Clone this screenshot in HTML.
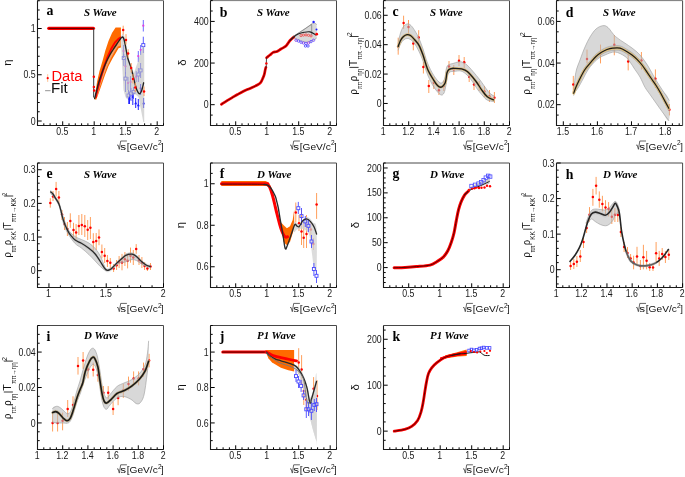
<!DOCTYPE html>
<html><head><meta charset="utf-8"><style>
html,body{margin:0;padding:0;background:#fff;}
svg{display:block;will-change:transform;}
.tl{font-family:"Liberation Sans",sans-serif;font-size:10.0px;fill:#1a1a1a;}
.xt{font-family:"Liberation Sans",sans-serif;font-size:9.6px;fill:#111;}
.yt{font-family:"Liberation Sans",sans-serif;font-size:10.5px;fill:#111;}
.pl{font-family:"Liberation Serif",serif;font-weight:bold;font-size:13.8px;fill:#000;}
.wv{font-family:"Liberation Serif",serif;font-weight:bold;font-style:italic;font-size:10.9px;fill:#000;}
</style></head><body>
<svg width="685" height="477" viewBox="0 0 685 477">
<rect width="685" height="477" fill="#fff"/>
<path d="M94.60,99.30 L95.60,92.00 L97.00,82.00 L99.50,71.00 L102.50,61.00 L105.20,51.00 L108.50,41.00 L112.00,33.00 L115.60,27.60 L120.90,27.60 L120.90,47.50 L118.50,48.20 L116.40,52.00 L112.50,58.50 L108.50,66.00 L105.00,75.00 L101.20,86.00 L98.40,94.00 L96.20,99.80Z" fill="#ff6a00" fill-opacity="1" stroke="none"/>
<path d="M96.00,97.00 L98.50,88.00 L101.50,78.00 L105.50,66.00 L110.50,55.00 L115.00,47.00 L118.50,42.00 L120.90,39.00 L120.90,45.50 L118.00,46.50 L115.00,51.00 L111.00,58.00 L106.50,68.00 L102.50,79.00 L99.50,88.00 L97.20,97.00Z" fill="#f4a36a" fill-opacity="1" stroke="none"/>
<path d="M95.20,97.50 L96.60,89.00 L99.00,79.00 L102.50,68.00 L106.50,57.00 L110.50,48.00 L114.50,41.50 L118.00,38.00 L120.90,36.30 L120.90,38.80 L118.30,40.30 L115.20,43.80 L111.50,50.50 L107.80,59.00 L104.20,70.00 L101.00,80.50 L98.40,90.00 L96.60,98.00Z" fill="#ff0000" fill-opacity="1" stroke="none"/>
<path d="M48.7,28.35 H93.5" stroke="#ff0000" stroke-width="3.1" stroke-linecap="round"/>
<path d="M48.5,28.35 H94" stroke="#2a0000" stroke-width="0.85"/>
<path d="M143.30,20.00 V31.50" stroke="#5a5aff" stroke-width="0.9"/>
<circle cx="143.30" cy="25.70" r="1.1" fill="#e040e0"/>
<path d="M143.30,36.70 V43.60" stroke="#4a4aff" stroke-width="0.9"/>
<path d="M143.30,46.60 V53.00" stroke="#4a4aff" stroke-width="0.9"/>
<rect x="141.80" y="43.60" width="3.0" height="3.0" fill="none" stroke="#4a4aff" stroke-width="0.9"/>
<path d="M140.70,45.00 V55.00" stroke="#5a5aff" stroke-width="0.9"/>
<circle cx="140.70" cy="49.80" r="1.1" fill="#e040e0"/>
<path d="M138.30,51.00 V62.00" stroke="#5a5aff" stroke-width="0.9"/>
<circle cx="138.30" cy="56.10" r="1.1" fill="#e040e0"/>
<path d="M125.50,58.00 V74.00" stroke="#5a5aff" stroke-width="0.9"/>
<circle cx="125.50" cy="66.30" r="1.1" fill="#e040e0"/>
<path d="M125.50,72.00 V77.10" stroke="#4a4aff" stroke-width="0.9"/>
<path d="M125.50,80.10 V92.00" stroke="#4a4aff" stroke-width="0.9"/>
<rect x="124.00" y="77.10" width="3.0" height="3.0" fill="none" stroke="#4a4aff" stroke-width="0.9"/>
<path d="M128.00,77.00 V90.00" stroke="#5a5aff" stroke-width="0.9"/>
<circle cx="128.00" cy="83.00" r="1.1" fill="#e040e0"/>
<path d="M130.60,76.00 V92.00" stroke="#5a5aff" stroke-width="0.9"/>
<circle cx="130.60" cy="82.00" r="1.1" fill="#e040e0"/>
<path d="M136.20,71.00 V82.00" stroke="#5a5aff" stroke-width="0.9"/>
<circle cx="136.20" cy="76.70" r="1.1" fill="#e040e0"/>
<path d="M138.40,68.00 V73.00" stroke="#4a4aff" stroke-width="0.9"/>
<path d="M138.40,76.00 V82.00" stroke="#4a4aff" stroke-width="0.9"/>
<rect x="136.90" y="73.00" width="3.0" height="3.0" fill="none" stroke="#4a4aff" stroke-width="0.9"/>
<path d="M140.60,63.00 V68.90" stroke="#4a4aff" stroke-width="0.9"/>
<path d="M140.60,71.90 V78.00" stroke="#4a4aff" stroke-width="0.9"/>
<rect x="139.10" y="68.90" width="3.0" height="3.0" fill="none" stroke="#4a4aff" stroke-width="0.9"/>
<path d="M140.60,84.00 V95.00" stroke="#2020ff" stroke-width="1.0"/>
<circle cx="140.60" cy="88.30" r="1.1" fill="#2020ff"/>
<path d="M128.50,90.00 V94.00" stroke="#4a4aff" stroke-width="0.9"/>
<path d="M128.50,97.00 V104.00" stroke="#4a4aff" stroke-width="0.9"/>
<rect x="127.00" y="94.00" width="3.0" height="3.0" fill="none" stroke="#4a4aff" stroke-width="0.9"/>
<path d="M131.00,88.00 V92.00" stroke="#4a4aff" stroke-width="0.9"/>
<path d="M131.00,95.00 V101.00" stroke="#4a4aff" stroke-width="0.9"/>
<rect x="129.50" y="92.00" width="3.0" height="3.0" fill="none" stroke="#4a4aff" stroke-width="0.9"/>
<path d="M132.80,92.00 V105.00" stroke="#2020ff" stroke-width="1.0"/>
<circle cx="132.80" cy="97.00" r="1.1" fill="#2020ff"/>
<path d="M133.50,87.00 V90.50" stroke="#4a4aff" stroke-width="0.9"/>
<path d="M133.50,93.50 V99.00" stroke="#4a4aff" stroke-width="0.9"/>
<rect x="132.00" y="90.50" width="3.0" height="3.0" fill="none" stroke="#4a4aff" stroke-width="0.9"/>
<path d="M135.70,98.00 V108.00" stroke="#2020ff" stroke-width="1.0"/>
<path d="M134.20,104.30 L137.20,104.30 L135.70,101.60Z" fill="#2020ff"/>
<path d="M138.30,99.00 V110.00" stroke="#2020ff" stroke-width="1.0"/>
<path d="M136.80,106.20 L139.80,106.20 L138.30,103.50Z" fill="#2020ff"/>
<path d="M143.60,98.00 V108.00" stroke="#2020ff" stroke-width="1.0"/>
<path d="M142.10,104.30 L145.10,104.30 L143.60,101.60Z" fill="#2020ff"/>
<path d="M129.50,94.00 V104.00" stroke="#2020ff" stroke-width="1.0"/>
<circle cx="129.50" cy="99.00" r="1.1" fill="#2020ff"/>
<path d="M123.50,45.00 V58.00" stroke="#5a5aff" stroke-width="0.9"/>
<circle cx="123.50" cy="51.00" r="1.1" fill="#e040e0"/>
<path d="M123.80,54.00 V56.50" stroke="#4a4aff" stroke-width="0.9"/>
<path d="M123.80,59.50 V66.00" stroke="#4a4aff" stroke-width="0.9"/>
<rect x="122.30" y="56.50" width="3.0" height="3.0" fill="none" stroke="#4a4aff" stroke-width="0.9"/>
<path d="M121.20,36.50 L122.40,33.80 L123.80,34.50 L125.00,38.00 L126.50,48.00 L128.00,58.00 L131.00,66.00 L134.00,73.00 L136.00,67.00 L138.50,60.00 L141.50,50.00 L143.30,45.50 L144.20,47.00 L144.20,122.00 L143.30,122.00 L141.00,110.00 L138.50,97.00 L135.50,94.50 L131.00,95.00 L127.30,99.50 L125.50,97.00 L123.50,90.00 L122.00,62.00 L121.20,45.00Z" fill="#bdbdbd" fill-opacity="0.6" stroke="none"/>
<path d="M93.7,28.6 V97.5" stroke="#333" stroke-width="1.0"/>
<path d="M94.60,98.50 C94.75,97.92 95.13,96.42 95.50,95.00 C95.87,93.58 96.33,91.83 96.80,90.00 C97.27,88.17 97.73,86.00 98.30,84.00 C98.87,82.00 99.42,80.33 100.20,78.00 C100.98,75.67 102.03,72.58 103.00,70.00 C103.97,67.42 104.92,64.92 106.00,62.50 C107.08,60.08 108.30,57.67 109.50,55.50 C110.70,53.33 112.03,51.33 113.20,49.50 C114.37,47.67 115.45,46.05 116.50,44.50 C117.55,42.95 118.67,41.35 119.50,40.20 C120.33,39.05 120.98,38.13 121.50,37.60 C122.02,37.07 122.25,36.88 122.60,37.00 C122.95,37.12 123.23,37.38 123.60,38.30 C123.97,39.22 124.40,40.72 124.80,42.50 C125.20,44.28 125.55,46.58 126.00,49.00 C126.45,51.42 126.97,54.75 127.50,57.00 C128.03,59.25 128.67,60.92 129.20,62.50 C129.73,64.08 130.10,64.50 130.70,66.50 C131.30,68.50 132.10,71.70 132.80,74.50 C133.50,77.30 134.20,80.67 134.90,83.30 C135.60,85.93 136.30,88.58 137.00,90.30 C137.70,92.02 138.47,93.23 139.10,93.60 C139.73,93.97 140.27,93.35 140.80,92.50 C141.33,91.65 141.83,90.12 142.30,88.50 C142.77,86.88 143.38,83.75 143.60,82.80" fill="none" stroke="#222" stroke-width="1.35" stroke-opacity="1" stroke-linejoin="round" stroke-linecap="round" />
<circle cx="93.80" cy="76.80" r="1.25" fill="#ff0000"/>
<circle cx="93.90" cy="86.90" r="1.25" fill="#ff0000"/>
<circle cx="94.20" cy="90.50" r="1.25" fill="#ff0000"/>
<path d="M123.20,25.70 V34.60" stroke="#ff9f5c" stroke-width="1.0"/>
<circle cx="123.20" cy="30.10" r="1.25" fill="#ff0000"/>
<path d="M126.00,34.10 V44.60" stroke="#ff9f5c" stroke-width="1.0"/>
<circle cx="126.00" cy="39.90" r="1.25" fill="#ff0000"/>
<path d="M128.10,49.30 V57.70" stroke="#ff9f5c" stroke-width="1.0"/>
<circle cx="128.10" cy="53.50" r="1.25" fill="#ff0000"/>
<path d="M131.20,63.00 V72.50" stroke="#ff9f5c" stroke-width="1.0"/>
<circle cx="131.20" cy="67.90" r="1.25" fill="#ff0000"/>
<path d="M133.00,74.00 V83.50" stroke="#ff9f5c" stroke-width="1.0"/>
<circle cx="133.00" cy="78.90" r="1.25" fill="#ff0000"/>
<path d="M135.30,83.00 V92.00" stroke="#ff9f5c" stroke-width="1.0"/>
<circle cx="135.30" cy="87.40" r="1.25" fill="#ff0000"/>
<path d="M144.00,86.50 V96.00" stroke="#ff9f5c" stroke-width="1.0"/>
<circle cx="144.00" cy="91.40" r="1.25" fill="#ff0000"/>
<path d="M294.00,36.00 C294.67,35.25 296.17,34.67 298.00,33.50 C299.83,32.33 303.08,30.33 305.00,29.00 C306.92,27.67 308.25,26.45 309.50,25.50 C310.75,24.55 311.67,23.72 312.50,23.30 C313.33,22.88 313.83,22.80 314.50,23.00 C315.17,23.20 316.17,22.00 316.50,24.50 C316.83,27.00 317.08,35.33 316.50,38.00 C315.92,40.67 314.42,39.83 313.00,40.50 C311.58,41.17 309.67,41.83 308.00,42.00 C306.33,42.17 304.67,41.92 303.00,41.50 C301.33,41.08 299.50,40.08 298.00,39.50 C296.50,38.92 294.67,38.58 294.00,38.00 C293.33,37.42 293.33,36.75 294.00,36.00Z" fill="#d8d8d8" fill-opacity="1" stroke="none"/>
<path d="M294.00,36.00 C294.67,35.58 296.17,34.67 298.00,33.50 C299.83,32.33 303.08,30.33 305.00,29.00 C306.92,27.67 308.25,26.45 309.50,25.50 C310.75,24.55 311.67,23.72 312.50,23.30 C313.33,22.88 313.83,22.80 314.50,23.00 C315.17,23.20 316.17,24.25 316.50,24.50" fill="none" stroke="#9a9a9a" stroke-width="0.6" stroke-opacity="1" stroke-linejoin="round" stroke-linecap="round" />
<path d="M294.00,38.00 C294.67,38.25 296.50,38.92 298.00,39.50 C299.50,40.08 301.33,41.08 303.00,41.50 C304.67,41.92 306.33,42.17 308.00,42.00 C309.67,41.83 311.58,41.17 313.00,40.50 C314.42,39.83 315.92,38.42 316.50,38.00" fill="none" stroke="#9a9a9a" stroke-width="0.6" stroke-opacity="1" stroke-linejoin="round" stroke-linecap="round" />
<path d="M221.40,104.30 C222.17,103.80 224.27,102.37 226.00,101.30 C227.73,100.23 229.88,99.03 231.80,97.90 C233.72,96.77 235.55,95.62 237.50,94.50 C239.45,93.38 241.42,92.22 243.50,91.20 C245.58,90.18 247.70,89.43 250.00,88.40 C252.30,87.37 255.50,86.02 257.30,85.00 C259.10,83.98 259.85,83.48 260.80,82.30 C261.75,81.12 262.42,79.22 263.00,77.90 C263.58,76.58 263.93,75.72 264.30,74.40 C264.67,73.08 264.93,71.17 265.20,70.00 C265.47,68.83 265.78,67.83 265.90,67.40" fill="none" stroke="#ff0000" stroke-width="2.7" stroke-opacity="1" stroke-linejoin="round" stroke-linecap="round" />
<path d="M266.50,57.70 C267.08,57.25 268.90,55.88 270.00,55.00 C271.10,54.12 271.93,52.98 273.10,52.40 C274.27,51.82 275.70,52.07 277.00,51.50 C278.30,50.93 279.40,49.92 280.90,49.00 C282.40,48.08 284.48,47.42 286.00,46.00 C287.52,44.58 288.70,42.00 290.00,40.50 C291.30,39.00 293.17,37.58 293.80,37.00" fill="none" stroke="#ff0000" stroke-width="2.7" stroke-opacity="1" stroke-linejoin="round" stroke-linecap="round" />
<path d="M221.40,104.30 C222.17,103.80 224.27,102.37 226.00,101.30 C227.73,100.23 229.88,99.03 231.80,97.90 C233.72,96.77 235.55,95.62 237.50,94.50 C239.45,93.38 241.42,92.22 243.50,91.20 C245.58,90.18 247.70,89.43 250.00,88.40 C252.30,87.37 255.50,86.02 257.30,85.00 C259.10,83.98 259.85,83.48 260.80,82.30 C261.75,81.12 262.42,79.22 263.00,77.90 C263.58,76.58 263.93,75.72 264.30,74.40 C264.67,73.08 264.93,71.17 265.20,70.00 C265.47,68.83 265.78,67.83 265.90,67.40" fill="none" stroke="#3a0000" stroke-width="0.75" stroke-opacity="1" stroke-linejoin="round" stroke-linecap="round" />
<path d="M266.2,67.6 L266.5,57.7" stroke="#333" stroke-width="0.9"/>
<circle cx="266.40" cy="63.40" r="1.2" fill="#ff0000"/>
<path d="M266.50,57.70 C267.08,57.25 268.90,55.88 270.00,55.00 C271.10,54.12 271.93,52.98 273.10,52.40 C274.27,51.82 275.70,52.07 277.00,51.50 C278.30,50.93 279.40,49.92 280.90,49.00 C282.40,48.08 284.48,47.42 286.00,46.00 C287.52,44.58 288.70,42.00 290.00,40.50 C291.30,39.00 293.17,37.58 293.80,37.00" fill="none" stroke="#3a0000" stroke-width="0.75" stroke-opacity="1" stroke-linejoin="round" stroke-linecap="round" />
<path d="M293,36.6 L311.7,24.3 V35" fill="none" stroke="#777" stroke-width="0.7"/>
<circle cx="301" cy="35.6" r="1.1" fill="none" stroke="#f05050" stroke-width="0.9"/>
<circle cx="303.5" cy="35.1" r="1.1" fill="none" stroke="#f05050" stroke-width="0.9"/>
<circle cx="306" cy="34.9" r="1.1" fill="none" stroke="#f05050" stroke-width="0.9"/>
<circle cx="308.5" cy="35.3" r="1.1" fill="none" stroke="#f05050" stroke-width="0.9"/>
<circle cx="311" cy="35.9" r="1.1" fill="none" stroke="#f05050" stroke-width="0.9"/>
<circle cx="296" cy="40.2" r="1.2" fill="none" stroke="#8040e0" stroke-width="0.85"/>
<circle cx="298.5" cy="41" r="1.2" fill="none" stroke="#5a4aff" stroke-width="0.85"/>
<circle cx="301" cy="42.2" r="1.2" fill="none" stroke="#5a4aff" stroke-width="0.85"/>
<circle cx="303.5" cy="43" r="1.2" fill="none" stroke="#7a40f0" stroke-width="0.85"/>
<circle cx="306" cy="43.6" r="1.2" fill="none" stroke="#5a4aff" stroke-width="0.85"/>
<circle cx="308.5" cy="43" r="1.2" fill="none" stroke="#a040e0" stroke-width="0.85"/>
<circle cx="311" cy="41.6" r="1.2" fill="none" stroke="#5a4aff" stroke-width="0.85"/>
<circle cx="313.5" cy="40.3" r="1.2" fill="none" stroke="#7a50ff" stroke-width="0.85"/>
<circle cx="305.5" cy="46" r="1.2" fill="none" stroke="#4a4aff" stroke-width="0.85"/>
<circle cx="308" cy="46" r="1.2" fill="none" stroke="#4a4aff" stroke-width="0.85"/>
<path d="M290.00,40.50 C290.63,39.92 292.43,38.07 293.80,37.00 C295.17,35.93 296.48,34.88 298.20,34.10 C299.92,33.32 302.13,32.67 304.10,32.30 C306.07,31.93 308.03,31.47 310.00,31.90 C311.97,32.33 314.92,34.40 315.90,34.90" fill="none" stroke="#222" stroke-width="1.1" stroke-opacity="1" stroke-linejoin="round" stroke-linecap="round" />
<circle cx="316.70" cy="34.20" r="1.4" fill="#ff0000"/>
<circle cx="313.60" cy="22.00" r="1.2" fill="#2020ff"/>
<circle cx="316.50" cy="29.50" r="1.0" fill="#2020ff"/>
<path d="M398.20,37.70 V54.70" stroke="#ff9f5c" stroke-width="1.0"/>
<circle cx="398.20" cy="46.50" r="1.25" fill="#ff0000"/>
<path d="M403.60,15.70 V28.90" stroke="#ff9f5c" stroke-width="1.0"/>
<circle cx="403.60" cy="22.90" r="1.25" fill="#ff0000"/>
<path d="M408.50,20.00 V34.00" stroke="#ff9f5c" stroke-width="1.0"/>
<circle cx="408.50" cy="27.00" r="1.25" fill="#ff0000"/>
<path d="M413.30,36.40 V50.30" stroke="#ff9f5c" stroke-width="1.0"/>
<circle cx="413.30" cy="43.40" r="1.25" fill="#ff0000"/>
<path d="M418.70,30.20 V44.60" stroke="#ff9f5c" stroke-width="1.0"/>
<circle cx="418.70" cy="37.50" r="1.25" fill="#ff0000"/>
<path d="M423.40,62.00 V73.50" stroke="#ff9f5c" stroke-width="1.0"/>
<circle cx="423.40" cy="67.00" r="1.25" fill="#ff0000"/>
<path d="M428.80,80.00 V93.00" stroke="#ff9f5c" stroke-width="1.0"/>
<circle cx="428.80" cy="85.90" r="1.25" fill="#ff0000"/>
<path d="M433.80,77.00 V89.00" stroke="#ff9f5c" stroke-width="1.0"/>
<circle cx="433.80" cy="82.80" r="1.25" fill="#ff0000"/>
<path d="M438.90,85.00 V95.00" stroke="#ff9f5c" stroke-width="1.0"/>
<circle cx="438.90" cy="90.30" r="1.25" fill="#ff0000"/>
<path d="M443.80,80.50 V91.00" stroke="#ff9f5c" stroke-width="1.0"/>
<circle cx="443.80" cy="85.90" r="1.25" fill="#ff0000"/>
<path d="M449.00,61.00 V72.00" stroke="#ff9f5c" stroke-width="1.0"/>
<circle cx="449.00" cy="66.40" r="1.25" fill="#ff0000"/>
<path d="M453.80,65.00 V75.00" stroke="#ff9f5c" stroke-width="1.0"/>
<circle cx="453.80" cy="69.60" r="1.25" fill="#ff0000"/>
<path d="M459.00,55.00 V66.00" stroke="#ff9f5c" stroke-width="1.0"/>
<circle cx="459.00" cy="60.80" r="1.25" fill="#ff0000"/>
<path d="M464.20,57.00 V68.00" stroke="#ff9f5c" stroke-width="1.0"/>
<circle cx="464.20" cy="62.30" r="1.25" fill="#ff0000"/>
<path d="M469.20,72.00 V82.00" stroke="#ff9f5c" stroke-width="1.0"/>
<circle cx="469.20" cy="76.80" r="1.25" fill="#ff0000"/>
<path d="M474.00,80.00 V90.00" stroke="#ff9f5c" stroke-width="1.0"/>
<circle cx="474.00" cy="84.60" r="1.25" fill="#ff0000"/>
<path d="M479.20,81.00 V91.00" stroke="#ff9f5c" stroke-width="1.0"/>
<circle cx="479.20" cy="85.70" r="1.25" fill="#ff0000"/>
<path d="M484.40,86.00 V97.00" stroke="#ff9f5c" stroke-width="1.0"/>
<circle cx="484.40" cy="91.40" r="1.25" fill="#ff0000"/>
<path d="M489.40,90.00 V102.00" stroke="#ff9f5c" stroke-width="1.0"/>
<circle cx="489.40" cy="96.20" r="1.25" fill="#ff0000"/>
<path d="M494.40,92.00 V103.00" stroke="#ff9f5c" stroke-width="1.0"/>
<circle cx="494.40" cy="97.70" r="1.25" fill="#ff0000"/>
<path d="M398.20,43.00 C398.58,40.17 399.62,35.75 400.50,33.00 C401.38,30.25 402.33,28.02 403.50,26.50 C404.67,24.98 406.25,24.07 407.50,23.90 C408.75,23.73 409.75,24.32 411.00,25.50 C412.25,26.68 413.67,28.83 415.00,31.00 C416.33,33.17 417.67,35.50 419.00,38.50 C420.33,41.50 421.58,44.92 423.00,49.00 C424.42,53.08 425.70,58.58 427.50,63.00 C429.30,67.42 431.63,72.17 433.80,75.50 C435.97,78.83 438.72,82.42 440.50,83.00 C442.28,83.58 443.50,81.50 444.50,79.00 C445.50,76.50 445.83,70.37 446.50,68.00 C447.17,65.63 447.42,65.55 448.50,64.80 C449.58,64.05 451.42,63.97 453.00,63.50 C454.58,63.03 456.50,62.25 458.00,62.00 C459.50,61.75 460.50,61.50 462.00,62.00 C463.50,62.50 465.17,63.42 467.00,65.00 C468.83,66.58 470.83,69.00 473.00,71.50 C475.17,74.00 477.83,77.17 480.00,80.00 C482.17,82.83 484.33,86.25 486.00,88.50 C487.67,90.75 488.67,92.25 490.00,93.50 C491.33,94.75 493.33,94.67 494.00,96.00 C494.67,97.33 495.17,100.83 494.00,101.50 C492.83,102.17 488.83,100.92 487.00,100.00 C485.17,99.08 484.50,97.67 483.00,96.00 C481.50,94.33 479.83,92.50 478.00,90.00 C476.17,87.50 473.83,83.50 472.00,81.00 C470.17,78.50 468.83,76.67 467.00,75.00 C465.17,73.33 463.17,71.58 461.00,71.00 C458.83,70.42 455.83,71.33 454.00,71.50 C452.17,71.67 451.08,71.25 450.00,72.00 C448.92,72.75 448.17,73.83 447.50,76.00 C446.83,78.17 446.58,82.17 446.00,85.00 C445.42,87.83 444.92,91.38 444.00,93.00 C443.08,94.62 442.20,95.70 440.50,94.70 C438.80,93.70 435.97,90.37 433.80,87.00 C431.63,83.63 429.30,78.83 427.50,74.50 C425.70,70.17 424.42,64.83 423.00,61.00 C421.58,57.17 420.42,54.42 419.00,51.50 C417.58,48.58 415.92,45.50 414.50,43.50 C413.08,41.50 411.75,40.33 410.50,39.50 C409.25,38.67 408.17,38.42 407.00,38.50 C405.83,38.58 404.58,39.08 403.50,40.00 C402.42,40.92 401.38,42.33 400.50,44.00 C399.62,45.67 398.58,50.17 398.20,50.00 C397.82,49.83 397.82,45.83 398.20,43.00Z" fill="#b8b8b8" fill-opacity="0.55" stroke="none"/>
<path d="M398.20,43.00 C398.58,41.33 399.62,35.75 400.50,33.00 C401.38,30.25 402.33,28.02 403.50,26.50 C404.67,24.98 406.25,24.07 407.50,23.90 C408.75,23.73 409.75,24.32 411.00,25.50 C412.25,26.68 413.67,28.83 415.00,31.00 C416.33,33.17 417.67,35.50 419.00,38.50 C420.33,41.50 421.58,44.92 423.00,49.00 C424.42,53.08 425.70,58.58 427.50,63.00 C429.30,67.42 431.63,72.17 433.80,75.50 C435.97,78.83 438.72,82.42 440.50,83.00 C442.28,83.58 443.50,81.50 444.50,79.00 C445.50,76.50 445.83,70.37 446.50,68.00 C447.17,65.63 447.42,65.55 448.50,64.80 C449.58,64.05 451.42,63.97 453.00,63.50 C454.58,63.03 456.50,62.25 458.00,62.00 C459.50,61.75 460.50,61.50 462.00,62.00 C463.50,62.50 465.17,63.42 467.00,65.00 C468.83,66.58 470.83,69.00 473.00,71.50 C475.17,74.00 477.83,77.17 480.00,80.00 C482.17,82.83 484.33,86.25 486.00,88.50 C487.67,90.75 488.67,92.25 490.00,93.50 C491.33,94.75 493.33,95.58 494.00,96.00" fill="none" stroke="#9a9a9a" stroke-width="0.6" stroke-opacity="1" stroke-linejoin="round" stroke-linecap="round" />
<path d="M398.20,50.00 C398.58,49.00 399.62,45.67 400.50,44.00 C401.38,42.33 402.42,40.92 403.50,40.00 C404.58,39.08 405.83,38.58 407.00,38.50 C408.17,38.42 409.25,38.67 410.50,39.50 C411.75,40.33 413.08,41.50 414.50,43.50 C415.92,45.50 417.58,48.58 419.00,51.50 C420.42,54.42 421.58,57.17 423.00,61.00 C424.42,64.83 425.70,70.17 427.50,74.50 C429.30,78.83 431.63,83.63 433.80,87.00 C435.97,90.37 438.80,93.70 440.50,94.70 C442.20,95.70 443.08,94.62 444.00,93.00 C444.92,91.38 445.42,87.83 446.00,85.00 C446.58,82.17 446.83,78.17 447.50,76.00 C448.17,73.83 448.92,72.75 450.00,72.00 C451.08,71.25 452.17,71.67 454.00,71.50 C455.83,71.33 458.83,70.42 461.00,71.00 C463.17,71.58 465.17,73.33 467.00,75.00 C468.83,76.67 470.17,78.50 472.00,81.00 C473.83,83.50 476.17,87.50 478.00,90.00 C479.83,92.50 481.50,94.33 483.00,96.00 C484.50,97.67 485.17,99.08 487.00,100.00 C488.83,100.92 492.83,101.25 494.00,101.50" fill="none" stroke="#9a9a9a" stroke-width="0.6" stroke-opacity="1" stroke-linejoin="round" stroke-linecap="round" />
<path d="M398.20,46.50 C398.58,45.50 399.62,42.17 400.50,40.50 C401.38,38.83 402.42,37.48 403.50,36.50 C404.58,35.52 405.83,34.77 407.00,34.60 C408.17,34.43 409.25,34.68 410.50,35.50 C411.75,36.32 413.08,37.87 414.50,39.50 C415.92,41.13 417.58,42.72 419.00,45.30 C420.42,47.88 421.58,51.07 423.00,55.00 C424.42,58.93 425.70,64.68 427.50,68.90 C429.30,73.12 432.13,77.53 433.80,80.30 C435.47,83.07 436.33,84.35 437.50,85.50 C438.67,86.65 439.80,87.20 440.80,87.20 C441.80,87.20 442.77,86.23 443.50,85.50 C444.23,84.77 444.75,84.05 445.20,82.80 C445.65,81.55 445.90,79.68 446.20,78.00 C446.50,76.32 446.55,74.10 447.00,72.70 C447.45,71.30 448.15,70.28 448.90,69.60 C449.65,68.92 450.65,68.82 451.50,68.60 C452.35,68.38 452.33,68.25 454.00,68.30 C455.67,68.35 459.28,68.37 461.50,68.90 C463.72,69.43 464.93,69.48 467.30,71.50 C469.67,73.52 473.25,77.85 475.70,81.00 C478.15,84.15 480.07,87.78 482.00,90.40 C483.93,93.02 485.38,95.13 487.30,96.70 C489.22,98.27 492.47,99.28 493.50,99.80" fill="none" stroke="#d8bc80" stroke-width="2.8" stroke-opacity="1" stroke-linejoin="round" stroke-linecap="round" />
<path d="M398.20,46.50 C398.58,45.50 399.62,42.17 400.50,40.50 C401.38,38.83 402.42,37.48 403.50,36.50 C404.58,35.52 405.83,34.77 407.00,34.60 C408.17,34.43 409.25,34.68 410.50,35.50 C411.75,36.32 413.08,37.87 414.50,39.50 C415.92,41.13 417.58,42.72 419.00,45.30 C420.42,47.88 421.58,51.07 423.00,55.00 C424.42,58.93 425.70,64.68 427.50,68.90 C429.30,73.12 432.13,77.53 433.80,80.30 C435.47,83.07 436.33,84.35 437.50,85.50 C438.67,86.65 439.80,87.20 440.80,87.20 C441.80,87.20 442.77,86.23 443.50,85.50 C444.23,84.77 444.75,84.05 445.20,82.80 C445.65,81.55 445.90,79.68 446.20,78.00 C446.50,76.32 446.55,74.10 447.00,72.70 C447.45,71.30 448.15,70.28 448.90,69.60 C449.65,68.92 450.65,68.82 451.50,68.60 C452.35,68.38 452.33,68.25 454.00,68.30 C455.67,68.35 459.28,68.37 461.50,68.90 C463.72,69.43 464.93,69.48 467.30,71.50 C469.67,73.52 473.25,77.85 475.70,81.00 C478.15,84.15 480.07,87.78 482.00,90.40 C483.93,93.02 485.38,95.13 487.30,96.70 C489.22,98.27 492.47,99.28 493.50,99.80" fill="none" stroke="#1a1a1a" stroke-width="1.35" stroke-opacity="1" stroke-linejoin="round" stroke-linecap="round" />
<path d="M573.30,75.90 V92.70" stroke="#ff9f5c" stroke-width="1.0"/>
<circle cx="573.30" cy="84.50" r="1.25" fill="#ff0000"/>
<path d="M587.00,49.60 V63.40" stroke="#ff9f5c" stroke-width="1.0"/>
<circle cx="587.00" cy="59.00" r="1.25" fill="#ff0000"/>
<path d="M600.50,44.60 V63.40" stroke="#ff9f5c" stroke-width="1.0"/>
<circle cx="600.50" cy="53.40" r="1.25" fill="#ff0000"/>
<path d="M614.30,35.10 V55.30" stroke="#ff9f5c" stroke-width="1.0"/>
<circle cx="614.30" cy="44.80" r="1.25" fill="#ff0000"/>
<path d="M628.20,53.50 V70.40" stroke="#ff9f5c" stroke-width="1.0"/>
<circle cx="628.20" cy="61.60" r="1.25" fill="#ff0000"/>
<path d="M641.40,52.00 V69.60" stroke="#ff9f5c" stroke-width="1.0"/>
<circle cx="641.40" cy="60.50" r="1.25" fill="#ff0000"/>
<path d="M655.40,69.40 V88.00" stroke="#ff9f5c" stroke-width="1.0"/>
<circle cx="655.40" cy="78.80" r="1.25" fill="#ff0000"/>
<path d="M669.40,104.00 V115.40" stroke="#ff9f5c" stroke-width="1.0"/>
<circle cx="669.40" cy="109.70" r="1.25" fill="#ff0000"/>
<path d="M573.70,92.50 C574.05,89.02 574.75,78.02 575.80,72.60 C576.85,67.18 578.47,64.27 580.00,60.00 C581.53,55.73 583.33,50.83 585.00,47.00 C586.67,43.17 588.17,40.00 590.00,37.00 C591.83,34.00 593.87,30.88 596.00,29.00 C598.13,27.12 600.80,25.95 602.80,25.70 C604.80,25.45 605.92,25.72 608.00,27.50 C610.08,29.28 612.47,33.78 615.30,36.40 C618.13,39.02 622.22,41.27 625.00,43.20 C627.78,45.13 629.50,46.03 632.00,48.00 C634.50,49.97 637.33,52.00 640.00,55.00 C642.67,58.00 645.50,62.08 648.00,66.00 C650.50,69.92 652.67,74.58 655.00,78.50 C657.33,82.42 659.63,85.87 662.00,89.50 C664.37,93.13 668.07,95.12 669.20,100.30 C670.33,105.48 670.00,118.73 668.80,120.60 C667.60,122.47 664.13,114.43 662.00,111.50 C659.87,108.57 658.00,105.83 656.00,103.00 C654.00,100.17 651.83,97.12 650.00,94.50 C648.17,91.88 646.67,90.22 645.00,87.30 C643.33,84.38 641.67,79.95 640.00,77.00 C638.33,74.05 636.67,72.10 635.00,69.60 C633.33,67.10 631.67,64.20 630.00,62.00 C628.33,59.80 627.50,58.07 625.00,56.40 C622.50,54.73 618.33,52.23 615.00,52.00 C611.67,51.77 608.00,53.75 605.00,55.00 C602.00,56.25 599.75,57.17 597.00,59.50 C594.25,61.83 590.83,65.75 588.50,69.00 C586.17,72.25 584.75,75.83 583.00,79.00 C581.25,82.17 579.55,85.58 578.00,88.00 C576.45,90.42 574.42,92.75 573.70,93.50 C572.98,94.25 573.35,95.98 573.70,92.50Z" fill="#b8b8b8" fill-opacity="0.55" stroke="none"/>
<path d="M573.70,92.50 C574.05,89.18 574.75,78.02 575.80,72.60 C576.85,67.18 578.47,64.27 580.00,60.00 C581.53,55.73 583.33,50.83 585.00,47.00 C586.67,43.17 588.17,40.00 590.00,37.00 C591.83,34.00 593.87,30.88 596.00,29.00 C598.13,27.12 600.80,25.95 602.80,25.70 C604.80,25.45 605.92,25.72 608.00,27.50 C610.08,29.28 612.47,33.78 615.30,36.40 C618.13,39.02 622.22,41.27 625.00,43.20 C627.78,45.13 629.50,46.03 632.00,48.00 C634.50,49.97 637.33,52.00 640.00,55.00 C642.67,58.00 645.50,62.08 648.00,66.00 C650.50,69.92 652.67,74.58 655.00,78.50 C657.33,82.42 659.63,85.87 662.00,89.50 C664.37,93.13 668.00,98.50 669.20,100.30" fill="none" stroke="#9a9a9a" stroke-width="0.6" stroke-opacity="1" stroke-linejoin="round" stroke-linecap="round" />
<path d="M573.70,93.50 C574.42,92.58 576.45,90.42 578.00,88.00 C579.55,85.58 581.25,82.17 583.00,79.00 C584.75,75.83 586.17,72.25 588.50,69.00 C590.83,65.75 594.25,61.83 597.00,59.50 C599.75,57.17 602.00,56.25 605.00,55.00 C608.00,53.75 611.67,51.77 615.00,52.00 C618.33,52.23 622.50,54.73 625.00,56.40 C627.50,58.07 628.33,59.80 630.00,62.00 C631.67,64.20 633.33,67.10 635.00,69.60 C636.67,72.10 638.33,74.05 640.00,77.00 C641.67,79.95 643.33,84.38 645.00,87.30 C646.67,90.22 648.17,91.88 650.00,94.50 C651.83,97.12 654.00,100.17 656.00,103.00 C658.00,105.83 659.87,108.57 662.00,111.50 C664.13,114.43 667.67,119.08 668.80,120.60" fill="none" stroke="#9a9a9a" stroke-width="0.6" stroke-opacity="1" stroke-linejoin="round" stroke-linecap="round" />
<path d="M573.70,90.80 C574.08,89.02 575.15,86.72 576.00,84.70 C576.85,82.68 577.37,81.53 578.80,78.70 C580.23,75.87 582.50,70.92 584.60,67.70 C586.70,64.48 589.50,61.65 591.40,59.40 C593.30,57.15 594.32,55.77 596.00,54.20 C597.68,52.63 599.67,51.17 601.50,50.00 C603.33,48.83 605.12,47.88 607.00,47.20 C608.88,46.52 610.63,46.12 612.80,45.90 C614.97,45.68 617.68,45.35 620.00,45.90 C622.32,46.45 624.70,48.07 626.70,49.20 C628.70,50.33 630.28,51.38 632.00,52.70 C633.72,54.02 635.33,55.43 637.00,57.10 C638.67,58.77 640.28,60.50 642.00,62.70 C643.72,64.90 645.63,67.88 647.30,70.30 C648.97,72.72 650.53,75.05 652.00,77.20 C653.47,79.35 654.77,81.12 656.10,83.20 C657.43,85.28 658.77,87.53 660.00,89.70 C661.23,91.87 662.03,93.48 663.50,96.20 C664.97,98.92 667.92,103.60 668.80,106.00 C669.68,108.40 669.68,111.47 668.80,110.60 C667.92,109.73 664.97,103.52 663.50,100.80 C662.03,98.08 661.23,96.47 660.00,94.30 C658.77,92.13 657.43,89.88 656.10,87.80 C654.77,85.72 653.47,83.95 652.00,81.80 C650.53,79.65 648.97,77.32 647.30,74.90 C645.63,72.48 643.72,69.50 642.00,67.30 C640.28,65.10 638.67,63.37 637.00,61.70 C635.33,60.03 633.72,58.62 632.00,57.30 C630.28,55.98 628.70,54.93 626.70,53.80 C624.70,52.67 622.32,51.05 620.00,50.50 C617.68,49.95 614.97,50.28 612.80,50.50 C610.63,50.72 608.88,51.12 607.00,51.80 C605.12,52.48 603.33,53.43 601.50,54.60 C599.67,55.77 597.68,57.23 596.00,58.80 C594.32,60.37 593.30,61.75 591.40,64.00 C589.50,66.25 586.70,69.08 584.60,72.30 C582.50,75.52 580.23,80.47 578.80,83.30 C577.37,86.13 576.85,87.28 576.00,89.30 C575.15,91.32 574.08,95.15 573.70,95.40 C573.32,95.65 573.32,92.58 573.70,90.80Z" fill="#a8a8a8" fill-opacity="0.3" stroke="none"/>
<path d="M573.70,90.80 C574.08,89.78 575.15,86.72 576.00,84.70 C576.85,82.68 577.37,81.53 578.80,78.70 C580.23,75.87 582.50,70.92 584.60,67.70 C586.70,64.48 589.50,61.65 591.40,59.40 C593.30,57.15 594.32,55.77 596.00,54.20 C597.68,52.63 599.67,51.17 601.50,50.00 C603.33,48.83 605.12,47.88 607.00,47.20 C608.88,46.52 610.63,46.12 612.80,45.90 C614.97,45.68 617.68,45.35 620.00,45.90 C622.32,46.45 624.70,48.07 626.70,49.20 C628.70,50.33 630.28,51.38 632.00,52.70 C633.72,54.02 635.33,55.43 637.00,57.10 C638.67,58.77 640.28,60.50 642.00,62.70 C643.72,64.90 645.63,67.88 647.30,70.30 C648.97,72.72 650.53,75.05 652.00,77.20 C653.47,79.35 654.77,81.12 656.10,83.20 C657.43,85.28 658.77,87.53 660.00,89.70 C661.23,91.87 662.03,93.48 663.50,96.20 C664.97,98.92 667.92,104.37 668.80,106.00" fill="none" stroke="#999" stroke-width="0.5" stroke-opacity="1" stroke-linejoin="round" stroke-linecap="round" />
<path d="M573.70,95.40 C574.08,94.38 575.15,91.32 576.00,89.30 C576.85,87.28 577.37,86.13 578.80,83.30 C580.23,80.47 582.50,75.52 584.60,72.30 C586.70,69.08 589.50,66.25 591.40,64.00 C593.30,61.75 594.32,60.37 596.00,58.80 C597.68,57.23 599.67,55.77 601.50,54.60 C603.33,53.43 605.12,52.48 607.00,51.80 C608.88,51.12 610.63,50.72 612.80,50.50 C614.97,50.28 617.68,49.95 620.00,50.50 C622.32,51.05 624.70,52.67 626.70,53.80 C628.70,54.93 630.28,55.98 632.00,57.30 C633.72,58.62 635.33,60.03 637.00,61.70 C638.67,63.37 640.28,65.10 642.00,67.30 C643.72,69.50 645.63,72.48 647.30,74.90 C648.97,77.32 650.53,79.65 652.00,81.80 C653.47,83.95 654.77,85.72 656.10,87.80 C657.43,89.88 658.77,92.13 660.00,94.30 C661.23,96.47 662.03,98.08 663.50,100.80 C664.97,103.52 667.92,108.97 668.80,110.60" fill="none" stroke="#999" stroke-width="0.5" stroke-opacity="1" stroke-linejoin="round" stroke-linecap="round" />
<path d="M573.70,93.10 C574.08,92.08 575.15,89.02 576.00,87.00 C576.85,84.98 577.37,83.83 578.80,81.00 C580.23,78.17 582.50,73.22 584.60,70.00 C586.70,66.78 589.50,63.95 591.40,61.70 C593.30,59.45 594.32,58.07 596.00,56.50 C597.68,54.93 599.67,53.47 601.50,52.30 C603.33,51.13 605.12,50.18 607.00,49.50 C608.88,48.82 610.63,48.42 612.80,48.20 C614.97,47.98 617.68,47.65 620.00,48.20 C622.32,48.75 624.70,50.37 626.70,51.50 C628.70,52.63 630.28,53.68 632.00,55.00 C633.72,56.32 635.33,57.73 637.00,59.40 C638.67,61.07 640.28,62.80 642.00,65.00 C643.72,67.20 645.63,70.18 647.30,72.60 C648.97,75.02 650.53,77.35 652.00,79.50 C653.47,81.65 654.77,83.42 656.10,85.50 C657.43,87.58 658.77,89.83 660.00,92.00 C661.23,94.17 662.03,95.78 663.50,98.50 C664.97,101.22 667.92,106.67 668.80,108.30" fill="none" stroke="#dcbc78" stroke-width="3.0" stroke-opacity="1" stroke-linejoin="round" stroke-linecap="round" />
<path d="M573.70,93.10 C574.08,92.08 575.15,89.02 576.00,87.00 C576.85,84.98 577.37,83.83 578.80,81.00 C580.23,78.17 582.50,73.22 584.60,70.00 C586.70,66.78 589.50,63.95 591.40,61.70 C593.30,59.45 594.32,58.07 596.00,56.50 C597.68,54.93 599.67,53.47 601.50,52.30 C603.33,51.13 605.12,50.18 607.00,49.50 C608.88,48.82 610.63,48.42 612.80,48.20 C614.97,47.98 617.68,47.65 620.00,48.20 C622.32,48.75 624.70,50.37 626.70,51.50 C628.70,52.63 630.28,53.68 632.00,55.00 C633.72,56.32 635.33,57.73 637.00,59.40 C638.67,61.07 640.28,62.80 642.00,65.00 C643.72,67.20 645.63,70.18 647.30,72.60 C648.97,75.02 650.53,77.35 652.00,79.50 C653.47,81.65 654.77,83.42 656.10,85.50 C657.43,87.58 658.77,89.83 660.00,92.00 C661.23,94.17 662.03,95.78 663.50,98.50 C664.97,101.22 667.92,106.67 668.80,108.30" fill="none" stroke="#1a1a1a" stroke-width="1.2" stroke-opacity="1" stroke-linejoin="round" stroke-linecap="round" />
<path d="M50.30,198.20 V207.70" stroke="#ff9f5c" stroke-width="1.0"/>
<circle cx="50.30" cy="203.00" r="1.25" fill="#ff0000"/>
<path d="M53.00,191.00 V201.00" stroke="#ff9f5c" stroke-width="1.0"/>
<circle cx="53.00" cy="196.40" r="1.25" fill="#ff0000"/>
<path d="M56.10,181.90 V196.40" stroke="#ff9f5c" stroke-width="1.0"/>
<circle cx="56.10" cy="189.10" r="1.25" fill="#ff0000"/>
<path d="M58.90,191.00 V204.00" stroke="#ff9f5c" stroke-width="1.0"/>
<circle cx="58.90" cy="197.60" r="1.25" fill="#ff0000"/>
<path d="M62.00,210.00 V220.00" stroke="#ff9f5c" stroke-width="1.0"/>
<circle cx="62.00" cy="214.60" r="1.25" fill="#ff0000"/>
<path d="M64.50,217.00 V230.00" stroke="#ff9f5c" stroke-width="1.0"/>
<circle cx="64.50" cy="224.00" r="1.25" fill="#ff0000"/>
<path d="M67.40,222.00 V236.00" stroke="#ff9f5c" stroke-width="1.0"/>
<circle cx="67.40" cy="229.00" r="1.25" fill="#ff0000"/>
<path d="M70.30,213.30 V227.80" stroke="#ff9f5c" stroke-width="1.0"/>
<circle cx="70.30" cy="220.90" r="1.25" fill="#ff0000"/>
<path d="M73.50,222.80 V237.00" stroke="#ff9f5c" stroke-width="1.0"/>
<circle cx="73.50" cy="230.10" r="1.25" fill="#ff0000"/>
<path d="M76.10,224.00 V240.00" stroke="#ff9f5c" stroke-width="1.0"/>
<circle cx="76.10" cy="232.60" r="1.25" fill="#ff0000"/>
<path d="M78.90,215.00 V235.00" stroke="#ff9f5c" stroke-width="1.0"/>
<circle cx="78.90" cy="225.90" r="1.25" fill="#ff0000"/>
<path d="M81.80,214.00 V235.00" stroke="#ff9f5c" stroke-width="1.0"/>
<circle cx="81.80" cy="225.00" r="1.25" fill="#ff0000"/>
<path d="M84.80,215.00 V237.00" stroke="#ff9f5c" stroke-width="1.0"/>
<circle cx="84.80" cy="226.30" r="1.25" fill="#ff0000"/>
<path d="M87.70,220.00 V240.00" stroke="#ff9f5c" stroke-width="1.0"/>
<circle cx="87.70" cy="229.80" r="1.25" fill="#ff0000"/>
<path d="M90.40,217.00 V239.00" stroke="#ff9f5c" stroke-width="1.0"/>
<circle cx="90.40" cy="227.80" r="1.25" fill="#ff0000"/>
<path d="M93.30,233.20 V250.80" stroke="#ff9f5c" stroke-width="1.0"/>
<circle cx="93.30" cy="242.00" r="1.25" fill="#ff0000"/>
<path d="M96.20,233.00 V250.00" stroke="#ff9f5c" stroke-width="1.0"/>
<circle cx="96.20" cy="241.10" r="1.25" fill="#ff0000"/>
<path d="M99.00,229.40 V245.20" stroke="#ff9f5c" stroke-width="1.0"/>
<circle cx="99.00" cy="237.60" r="1.25" fill="#ff0000"/>
<path d="M101.90,244.50 V258.40" stroke="#ff9f5c" stroke-width="1.0"/>
<circle cx="101.90" cy="252.10" r="1.25" fill="#ff0000"/>
<path d="M104.70,248.00 V263.00" stroke="#ff9f5c" stroke-width="1.0"/>
<circle cx="104.70" cy="255.80" r="1.25" fill="#ff0000"/>
<path d="M107.40,255.00 V267.00" stroke="#ff9f5c" stroke-width="1.0"/>
<circle cx="107.40" cy="260.90" r="1.25" fill="#ff0000"/>
<path d="M110.30,258.00 V268.00" stroke="#ff9f5c" stroke-width="1.0"/>
<circle cx="110.30" cy="262.80" r="1.25" fill="#ff0000"/>
<path d="M113.60,264.00 V272.00" stroke="#ff9f5c" stroke-width="1.0"/>
<circle cx="113.60" cy="268.40" r="1.25" fill="#ff0000"/>
<path d="M116.60,260.00 V270.00" stroke="#ff9f5c" stroke-width="1.0"/>
<circle cx="116.60" cy="265.30" r="1.25" fill="#ff0000"/>
<path d="M119.10,256.00 V268.00" stroke="#ff9f5c" stroke-width="1.0"/>
<circle cx="119.10" cy="262.10" r="1.25" fill="#ff0000"/>
<path d="M122.00,253.90 V270.30" stroke="#ff9f5c" stroke-width="1.0"/>
<circle cx="122.00" cy="262.50" r="1.25" fill="#ff0000"/>
<path d="M124.90,252.00 V266.00" stroke="#ff9f5c" stroke-width="1.0"/>
<circle cx="124.90" cy="259.20" r="1.25" fill="#ff0000"/>
<path d="M127.60,255.20 V268.40" stroke="#ff9f5c" stroke-width="1.0"/>
<circle cx="127.60" cy="260.80" r="1.25" fill="#ff0000"/>
<path d="M130.50,247.60 V262.70" stroke="#ff9f5c" stroke-width="1.0"/>
<circle cx="130.50" cy="255.80" r="1.25" fill="#ff0000"/>
<path d="M133.30,250.00 V265.00" stroke="#ff9f5c" stroke-width="1.0"/>
<circle cx="133.30" cy="257.50" r="1.25" fill="#ff0000"/>
<path d="M136.20,244.10 V253.90" stroke="#ff9f5c" stroke-width="1.0"/>
<circle cx="136.20" cy="248.90" r="1.25" fill="#ff0000"/>
<path d="M139.00,255.00 V265.00" stroke="#ff9f5c" stroke-width="1.0"/>
<circle cx="139.00" cy="260.20" r="1.25" fill="#ff0000"/>
<path d="M141.90,257.00 V268.00" stroke="#ff9f5c" stroke-width="1.0"/>
<circle cx="141.90" cy="262.70" r="1.25" fill="#ff0000"/>
<path d="M144.60,262.00 V270.00" stroke="#ff9f5c" stroke-width="1.0"/>
<circle cx="144.60" cy="265.90" r="1.25" fill="#ff0000"/>
<path d="M147.40,265.00 V271.00" stroke="#ff9f5c" stroke-width="1.0"/>
<circle cx="147.40" cy="268.40" r="1.25" fill="#ff0000"/>
<path d="M150.50,263.00 V270.00" stroke="#ff9f5c" stroke-width="1.0"/>
<circle cx="150.50" cy="266.50" r="1.25" fill="#ff0000"/>
<path d="M50.70,190.80 C51.43,191.32 53.73,194.35 55.10,196.30 C56.47,198.25 57.92,200.38 58.90,202.50 C59.88,204.62 60.32,206.75 61.00,209.00 C61.68,211.25 62.33,213.83 63.00,216.00 C63.67,218.17 64.03,219.58 65.00,222.00 C65.97,224.42 67.12,228.08 68.80,230.50 C70.48,232.92 73.00,235.00 75.10,236.50 C77.20,238.00 79.10,238.42 81.40,239.50 C83.70,240.58 86.60,241.50 88.90,243.00 C91.20,244.50 93.30,246.33 95.20,248.50 C97.10,250.67 98.72,253.00 100.30,256.00 C101.88,259.00 103.55,264.23 104.70,266.50 C105.85,268.77 106.05,269.43 107.20,269.60 C108.35,269.77 110.03,268.68 111.60,267.50 C113.17,266.32 115.20,263.83 116.60,262.50 C118.00,261.17 118.58,260.78 120.00,259.50 C121.42,258.22 123.77,255.80 125.10,254.80 C126.43,253.80 126.85,253.77 128.00,253.50 C129.15,253.23 130.60,252.85 132.00,253.20 C133.40,253.55 134.82,254.33 136.40,255.60 C137.98,256.87 139.82,259.27 141.50,260.80 C143.18,262.33 145.03,263.93 146.50,264.80 C147.97,265.67 149.67,265.63 150.30,266.00 C150.93,266.37 150.93,266.92 150.30,267.00 C149.67,267.08 147.97,267.00 146.50,266.50 C145.03,266.00 143.18,265.00 141.50,264.00 C139.82,263.00 137.98,261.25 136.40,260.50 C134.82,259.75 133.40,259.42 132.00,259.50 C130.60,259.58 129.15,260.58 128.00,261.00 C126.85,261.42 126.43,261.67 125.10,262.00 C123.77,262.33 121.42,262.50 120.00,263.00 C118.58,263.50 118.00,263.92 116.60,265.00 C115.20,266.08 113.17,268.52 111.60,269.50 C110.03,270.48 108.35,270.82 107.20,270.90 C106.05,270.98 105.85,270.73 104.70,270.00 C103.55,269.27 101.88,268.00 100.30,266.50 C98.72,265.00 97.10,263.00 95.20,261.00 C93.30,259.00 91.20,256.67 88.90,254.50 C86.60,252.33 83.70,249.83 81.40,248.00 C79.10,246.17 77.20,245.67 75.10,243.50 C73.00,241.33 70.58,237.83 68.80,235.00 C67.02,232.17 65.47,229.10 64.40,226.50 C63.33,223.90 63.03,221.90 62.40,219.40 C61.77,216.90 61.18,213.85 60.60,211.50 C60.02,209.15 59.82,207.40 58.90,205.30 C57.98,203.20 56.47,200.92 55.10,198.90 C53.73,196.88 51.43,194.55 50.70,193.20 C49.97,191.85 49.97,190.28 50.70,190.80Z" fill="#b8b8b8" fill-opacity="0.55" stroke="none"/>
<path d="M50.70,190.80 C51.43,191.72 53.73,194.35 55.10,196.30 C56.47,198.25 57.92,200.38 58.90,202.50 C59.88,204.62 60.32,206.75 61.00,209.00 C61.68,211.25 62.33,213.83 63.00,216.00 C63.67,218.17 64.03,219.58 65.00,222.00 C65.97,224.42 67.12,228.08 68.80,230.50 C70.48,232.92 73.00,235.00 75.10,236.50 C77.20,238.00 79.10,238.42 81.40,239.50 C83.70,240.58 86.60,241.50 88.90,243.00 C91.20,244.50 93.30,246.33 95.20,248.50 C97.10,250.67 98.72,253.00 100.30,256.00 C101.88,259.00 103.55,264.23 104.70,266.50 C105.85,268.77 106.05,269.43 107.20,269.60 C108.35,269.77 110.03,268.68 111.60,267.50 C113.17,266.32 115.20,263.83 116.60,262.50 C118.00,261.17 118.58,260.78 120.00,259.50 C121.42,258.22 123.77,255.80 125.10,254.80 C126.43,253.80 126.85,253.77 128.00,253.50 C129.15,253.23 130.60,252.85 132.00,253.20 C133.40,253.55 134.82,254.33 136.40,255.60 C137.98,256.87 139.82,259.27 141.50,260.80 C143.18,262.33 145.03,263.93 146.50,264.80 C147.97,265.67 149.67,265.80 150.30,266.00" fill="none" stroke="#9a9a9a" stroke-width="0.6" stroke-opacity="1" stroke-linejoin="round" stroke-linecap="round" />
<path d="M50.70,193.20 C51.43,194.15 53.73,196.88 55.10,198.90 C56.47,200.92 57.98,203.20 58.90,205.30 C59.82,207.40 60.02,209.15 60.60,211.50 C61.18,213.85 61.77,216.90 62.40,219.40 C63.03,221.90 63.33,223.90 64.40,226.50 C65.47,229.10 67.02,232.17 68.80,235.00 C70.58,237.83 73.00,241.33 75.10,243.50 C77.20,245.67 79.10,246.17 81.40,248.00 C83.70,249.83 86.60,252.33 88.90,254.50 C91.20,256.67 93.30,259.00 95.20,261.00 C97.10,263.00 98.72,265.00 100.30,266.50 C101.88,268.00 103.55,269.27 104.70,270.00 C105.85,270.73 106.05,270.98 107.20,270.90 C108.35,270.82 110.03,270.48 111.60,269.50 C113.17,268.52 115.20,266.08 116.60,265.00 C118.00,263.92 118.58,263.50 120.00,263.00 C121.42,262.50 123.77,262.33 125.10,262.00 C126.43,261.67 126.85,261.42 128.00,261.00 C129.15,260.58 130.60,259.58 132.00,259.50 C133.40,259.42 134.82,259.75 136.40,260.50 C137.98,261.25 139.82,263.00 141.50,264.00 C143.18,265.00 145.03,266.00 146.50,266.50 C147.97,267.00 149.67,266.92 150.30,267.00" fill="none" stroke="#9a9a9a" stroke-width="0.6" stroke-opacity="1" stroke-linejoin="round" stroke-linecap="round" />
<path d="M50.70,190.00 C51.08,189.67 52.27,191.07 53.00,192.00 C53.73,192.93 54.12,193.95 55.10,195.60 C56.08,197.25 57.95,199.80 58.90,201.90 C59.85,204.00 60.18,205.90 60.80,208.20 C61.42,210.50 61.98,213.48 62.60,215.70 C63.22,217.92 63.87,219.82 64.50,221.50 C65.13,223.18 65.68,224.28 66.40,225.80 C67.12,227.32 68.07,229.35 68.80,230.60 C69.53,231.85 69.75,232.05 70.80,233.30 C71.85,234.55 73.33,236.77 75.10,238.10 C76.87,239.43 79.10,239.93 81.40,241.30 C83.70,242.67 86.60,244.52 88.90,246.30 C91.20,248.08 93.30,249.80 95.20,252.00 C97.10,254.20 98.72,257.10 100.30,259.50 C101.88,261.90 103.55,264.93 104.70,266.40 C105.85,267.87 106.40,268.07 107.20,268.30 C108.00,268.53 108.77,268.12 109.50,267.80 C110.23,267.48 110.42,267.47 111.60,266.40 C112.78,265.33 115.20,262.75 116.60,261.40 C118.00,260.05 118.58,259.57 120.00,258.30 C121.42,257.03 123.77,254.77 125.10,253.80 C126.43,252.83 126.85,252.77 128.00,252.50 C129.15,252.23 130.60,251.88 132.00,252.20 C133.40,252.52 134.82,253.18 136.40,254.40 C137.98,255.62 139.82,258.02 141.50,259.50 C143.18,260.98 145.03,262.47 146.50,263.30 C147.97,264.13 149.67,263.63 150.30,264.50 C150.93,265.37 150.93,268.03 150.30,268.50 C149.67,268.97 147.97,268.13 146.50,267.30 C145.03,266.47 143.18,264.98 141.50,263.50 C139.82,262.02 137.98,259.62 136.40,258.40 C134.82,257.18 133.40,256.52 132.00,256.20 C130.60,255.88 129.15,256.23 128.00,256.50 C126.85,256.77 126.43,256.83 125.10,257.80 C123.77,258.77 121.42,261.03 120.00,262.30 C118.58,263.57 118.00,264.05 116.60,265.40 C115.20,266.75 112.78,269.33 111.60,270.40 C110.42,271.47 110.23,271.48 109.50,271.80 C108.77,272.12 108.00,272.53 107.20,272.30 C106.40,272.07 105.85,271.87 104.70,270.40 C103.55,268.93 101.88,265.90 100.30,263.50 C98.72,261.10 97.10,258.20 95.20,256.00 C93.30,253.80 91.20,252.08 88.90,250.30 C86.60,248.52 83.70,246.67 81.40,245.30 C79.10,243.93 76.87,243.43 75.10,242.10 C73.33,240.77 71.85,238.55 70.80,237.30 C69.75,236.05 69.53,235.85 68.80,234.60 C68.07,233.35 67.12,231.32 66.40,229.80 C65.68,228.28 65.13,227.18 64.50,225.50 C63.87,223.82 63.22,221.92 62.60,219.70 C61.98,217.48 61.42,214.50 60.80,212.20 C60.18,209.90 59.85,208.00 58.90,205.90 C57.95,203.80 56.08,201.25 55.10,199.60 C54.12,197.95 53.73,196.93 53.00,196.00 C52.27,195.07 51.08,195.00 50.70,194.00 C50.32,193.00 50.32,190.33 50.70,190.00Z" fill="#a8a8a8" fill-opacity="0.25" stroke="none"/>
<path d="M50.70,192.00 C51.08,192.33 52.27,193.07 53.00,194.00 C53.73,194.93 54.12,195.95 55.10,197.60 C56.08,199.25 57.95,201.80 58.90,203.90 C59.85,206.00 60.18,207.90 60.80,210.20 C61.42,212.50 61.98,215.48 62.60,217.70 C63.22,219.92 63.87,221.82 64.50,223.50 C65.13,225.18 65.68,226.28 66.40,227.80 C67.12,229.32 68.07,231.35 68.80,232.60 C69.53,233.85 69.75,234.05 70.80,235.30 C71.85,236.55 73.33,238.77 75.10,240.10 C76.87,241.43 79.10,241.93 81.40,243.30 C83.70,244.67 86.60,246.52 88.90,248.30 C91.20,250.08 93.30,251.80 95.20,254.00 C97.10,256.20 98.72,259.10 100.30,261.50 C101.88,263.90 103.55,266.93 104.70,268.40 C105.85,269.87 106.40,270.07 107.20,270.30 C108.00,270.53 108.77,270.12 109.50,269.80 C110.23,269.48 110.42,269.47 111.60,268.40 C112.78,267.33 115.20,264.75 116.60,263.40 C118.00,262.05 118.58,261.57 120.00,260.30 C121.42,259.03 123.77,256.77 125.10,255.80 C126.43,254.83 126.85,254.77 128.00,254.50 C129.15,254.23 130.60,253.88 132.00,254.20 C133.40,254.52 134.82,255.18 136.40,256.40 C137.98,257.62 139.82,260.02 141.50,261.50 C143.18,262.98 145.03,264.47 146.50,265.30 C147.97,266.13 149.67,266.30 150.30,266.50" fill="none" stroke="#2a2a2a" stroke-width="1.3" stroke-opacity="1" stroke-linejoin="round" stroke-linecap="round" />
<path d="M221.30,181.10 L265.50,181.10 L267.80,182.00 L269.60,184.00 L271.20,187.50 L273.50,196.00 L275.50,204.00 L277.50,212.00 L279.50,219.50 L281.10,222.50 L283.70,225.20 L286.90,228.30 L290.00,226.20 L292.70,220.00 L294.20,209.40 L294.20,225.00 L293.20,231.50 L290.00,242.00 L286.40,245.10 L283.70,242.00 L282.20,234.60 L279.50,226.00 L277.00,216.00 L275.00,206.00 L272.50,195.00 L270.50,189.00 L268.50,186.80 L266.50,186.10 L221.30,186.10Z" fill="#ff6a00" fill-opacity="1" stroke="none"/>
<path d="M221.50,183.75 C228.58,183.75 256.53,183.69 264.00,183.75 C271.47,183.81 265.60,183.84 266.30,184.10 C267.00,184.36 267.62,184.73 268.20,185.30 C268.78,185.87 269.10,185.88 269.80,187.50 C270.50,189.12 271.62,192.33 272.40,195.00 C273.18,197.67 273.73,200.33 274.50,203.50 C275.27,206.67 276.15,210.58 277.00,214.00 C277.85,217.42 278.77,221.08 279.60,224.00 C280.43,226.92 281.27,229.58 282.00,231.50 C282.73,233.42 283.37,234.55 284.00,235.50 C284.63,236.45 285.22,236.98 285.80,237.20 C286.38,237.42 287.22,236.87 287.50,236.80" fill="none" stroke="#ff0000" stroke-width="3.0" stroke-opacity="1" stroke-linejoin="round" stroke-linecap="round" />
<path d="M295.80,202.50 V222.60" stroke="#ff9f5c" stroke-width="1.0"/>
<circle cx="295.80" cy="212.60" r="1.25" fill="#ff0000"/>
<path d="M301.50,210.00 V245.00" stroke="#ff9f5c" stroke-width="1.0"/>
<circle cx="301.50" cy="231.40" r="1.25" fill="#ff0000"/>
<path d="M303.70,222.00 V248.00" stroke="#ff9f5c" stroke-width="1.0"/>
<circle cx="303.70" cy="237.70" r="1.25" fill="#ff0000"/>
<path d="M306.50,215.00 V248.00" stroke="#ff9f5c" stroke-width="1.0"/>
<circle cx="306.50" cy="234.00" r="1.25" fill="#ff0000"/>
<path d="M316.60,193.00 V218.90" stroke="#ff9f5c" stroke-width="1.0"/>
<circle cx="316.60" cy="204.40" r="1.25" fill="#ff0000"/>
<path d="M299.00,215.00 V231.00" stroke="#ff9f5c" stroke-width="1.0"/>
<circle cx="299.00" cy="223.30" r="1.25" fill="#ff0000"/>
<path d="M310.90,222.00 V238.00" stroke="#ff9f5c" stroke-width="1.0"/>
<circle cx="310.90" cy="229.60" r="1.25" fill="#ff0000"/>
<path d="M313.40,238.00 V250.00" stroke="#ff9f5c" stroke-width="1.0"/>
<circle cx="313.40" cy="244.00" r="1.25" fill="#ff0000"/>
<path d="M293.90,222.00 C294.42,220.58 295.98,223.17 297.00,223.50 C298.02,223.83 299.00,224.67 300.00,224.00 C301.00,223.33 301.92,220.67 303.00,219.50 C304.08,218.33 305.33,217.17 306.50,217.00 C307.67,216.83 308.92,217.58 310.00,218.50 C311.08,219.42 311.90,220.75 313.00,222.50 C314.10,224.25 316.00,220.75 316.60,229.00 C317.20,237.25 316.78,264.83 316.60,272.00 C316.42,279.17 316.02,273.17 315.50,272.00 C314.98,270.83 314.17,268.67 313.50,265.00 C312.83,261.33 312.17,254.83 311.50,250.00 C310.83,245.17 310.33,239.17 309.50,236.00 C308.67,232.83 307.58,232.17 306.50,231.00 C305.42,229.83 304.08,229.33 303.00,229.00 C301.92,228.67 301.00,228.92 300.00,229.00 C299.00,229.08 298.02,229.00 297.00,229.50 C295.98,230.00 294.42,233.25 293.90,232.00 C293.38,230.75 293.38,223.42 293.90,222.00Z" fill="#d0d0d0" fill-opacity="0.75" stroke="none"/>
<path d="M298.30,201.90 V206.70" stroke="#4848ff" stroke-width="0.9"/>
<path d="M298.30,209.70 V214.00" stroke="#4848ff" stroke-width="0.9"/>
<rect x="296.80" y="206.70" width="3.0" height="3.0" fill="none" stroke="#4848ff" stroke-width="0.9"/>
<path d="M301.50,208.00 V214.60" stroke="#4848ff" stroke-width="0.9"/>
<path d="M301.50,217.60 V225.00" stroke="#4848ff" stroke-width="0.9"/>
<rect x="300.00" y="214.60" width="3.0" height="3.0" fill="none" stroke="#4848ff" stroke-width="0.9"/>
<path d="M305.30,216.00 V219.90" stroke="#4848ff" stroke-width="0.9"/>
<path d="M305.30,222.90 V227.00" stroke="#4848ff" stroke-width="0.9"/>
<rect x="303.80" y="219.90" width="3.0" height="3.0" fill="none" stroke="#4848ff" stroke-width="0.9"/>
<path d="M308.40,220.00 V224.30" stroke="#4848ff" stroke-width="0.9"/>
<path d="M308.40,227.30 V232.00" stroke="#4848ff" stroke-width="0.9"/>
<rect x="306.90" y="224.30" width="3.0" height="3.0" fill="none" stroke="#4848ff" stroke-width="0.9"/>
<path d="M311.50,235.00 V240.00" stroke="#4848ff" stroke-width="0.9"/>
<path d="M311.50,243.00 V248.00" stroke="#4848ff" stroke-width="0.9"/>
<rect x="310.00" y="240.00" width="3.0" height="3.0" fill="none" stroke="#4848ff" stroke-width="0.9"/>
<path d="M313.90,263.00 V267.50" stroke="#4848ff" stroke-width="0.9"/>
<path d="M313.90,270.50 V276.00" stroke="#4848ff" stroke-width="0.9"/>
<rect x="312.40" y="267.50" width="3.0" height="3.0" fill="none" stroke="#4848ff" stroke-width="0.9"/>
<path d="M316.50,270.00 V274.30" stroke="#4848ff" stroke-width="0.9"/>
<path d="M316.50,277.30 V283.00" stroke="#4848ff" stroke-width="0.9"/>
<rect x="315.00" y="274.30" width="3.0" height="3.0" fill="none" stroke="#4848ff" stroke-width="0.9"/>
<path d="M221.50,184.10 C227.08,184.12 247.92,184.13 255.00,184.20 C262.08,184.27 262.50,184.45 264.00,184.50" fill="none" stroke="#3a1010" stroke-width="0.9" stroke-opacity="1" stroke-linejoin="round" stroke-linecap="round" />
<path d="M264.00,184.50 C264.60,184.60 266.37,184.38 267.60,185.10 C268.83,185.82 270.15,187.02 271.40,188.80 C272.65,190.58 274.27,193.93 275.10,195.80 C275.93,197.67 275.87,197.97 276.40,200.00 C276.93,202.03 277.68,204.85 278.30,208.00 C278.92,211.15 279.28,214.15 280.10,218.90 C280.92,223.65 282.33,231.52 283.20,236.50 C284.07,241.48 284.57,247.43 285.30,248.80 C286.03,250.17 286.58,247.17 287.60,244.70 C288.62,242.23 290.20,237.33 291.40,234.00 C292.60,230.67 293.85,226.00 294.80,224.70 C295.75,223.40 296.40,225.85 297.10,226.20 C297.80,226.55 298.38,227.17 299.00,226.80 C299.62,226.43 300.18,225.00 300.80,224.00 C301.42,223.00 301.75,221.65 302.70,220.80 C303.65,219.95 305.23,218.80 306.50,218.90 C307.77,219.00 309.03,220.05 310.30,221.40 C311.57,222.75 313.05,224.90 314.10,227.00 C315.15,229.10 316.18,232.83 316.60,234.00" fill="none" stroke="#2a2a2a" stroke-width="1.35" stroke-opacity="1" stroke-linejoin="round" stroke-linecap="round" />
<path d="M468.30,189.50 C468.92,188.53 470.55,187.00 472.00,186.00 C473.45,185.00 475.33,184.25 477.00,183.50 C478.67,182.75 480.50,182.17 482.00,181.50 C483.50,180.83 484.75,180.17 486.00,179.50 C487.25,178.83 488.92,176.88 489.50,177.50 C490.08,178.12 490.08,182.03 489.50,183.20 C488.92,184.37 487.25,184.03 486.00,184.50 C484.75,184.97 483.50,185.50 482.00,186.00 C480.50,186.50 478.67,186.92 477.00,187.50 C475.33,188.08 473.45,188.78 472.00,189.50 C470.55,190.22 468.92,191.80 468.30,191.80 C467.68,191.80 467.68,190.47 468.30,189.50Z" fill="#cccccc" fill-opacity="1" stroke="none"/>
<path d="M394.10,267.80 C395.92,267.73 401.28,267.60 405.00,267.40 C408.72,267.20 412.23,266.98 416.40,266.60 C420.57,266.22 426.55,265.95 430.00,265.10 C433.45,264.25 434.88,262.83 437.10,261.50 C439.32,260.17 441.52,258.88 443.30,257.10 C445.08,255.32 446.45,253.33 447.80,250.80 C449.15,248.27 450.37,244.87 451.40,241.90 C452.43,238.93 453.18,236.55 454.00,233.00 C454.82,229.45 455.55,224.45 456.30,220.60 C457.05,216.75 457.70,213.02 458.50,209.90 C459.30,206.78 460.07,204.42 461.10,201.90 C462.13,199.38 463.50,196.58 464.70,194.80 C465.90,193.02 467.70,191.80 468.30,191.20" fill="none" stroke="#ff0000" stroke-width="3.0" stroke-opacity="1" stroke-linejoin="round" stroke-linecap="round" />
<path d="M394.10,267.80 C395.92,267.73 401.28,267.60 405.00,267.40 C408.72,267.20 412.23,266.98 416.40,266.60 C420.57,266.22 426.55,265.95 430.00,265.10 C433.45,264.25 434.88,262.83 437.10,261.50 C439.32,260.17 441.52,258.88 443.30,257.10 C445.08,255.32 446.45,253.33 447.80,250.80 C449.15,248.27 450.37,244.87 451.40,241.90 C452.43,238.93 453.18,236.55 454.00,233.00 C454.82,229.45 455.55,224.45 456.30,220.60 C457.05,216.75 457.70,213.02 458.50,209.90 C459.30,206.78 460.07,204.42 461.10,201.90 C462.13,199.38 463.50,196.58 464.70,194.80 C465.90,193.02 467.70,191.80 468.30,191.20" fill="none" stroke="#2a0000" stroke-width="0.8" stroke-opacity="1" stroke-linejoin="round" stroke-linecap="round" />
<path d="M464.70,194.80 C465.30,194.20 467.08,192.13 468.30,191.20 C469.52,190.27 470.43,189.93 472.00,189.20 C473.57,188.47 475.87,187.58 477.70,186.80 C479.53,186.02 481.07,185.38 483.00,184.50 C484.93,183.62 488.25,182.00 489.30,181.50" fill="none" stroke="#1a1a1a" stroke-width="1.0" stroke-opacity="1" stroke-linejoin="round" stroke-linecap="round" />
<circle cx="468.90" cy="190.00" r="1.2" fill="#ff0000"/>
<circle cx="472.00" cy="188.60" r="1.2" fill="#ff0000"/>
<circle cx="474.50" cy="188.20" r="1.2" fill="#ff0000"/>
<circle cx="476.50" cy="187.60" r="1.2" fill="#ff0000"/>
<circle cx="479.00" cy="188.00" r="1.2" fill="#ff0000"/>
<circle cx="481.50" cy="187.80" r="1.2" fill="#ff0000"/>
<circle cx="484.50" cy="187.50" r="1.2" fill="#ff0000"/>
<circle cx="487.00" cy="185.80" r="1.2" fill="#ff0000"/>
<circle cx="490.00" cy="186.20" r="1.2" fill="#ff0000"/>
<rect x="469.8" y="184.3" width="3.4" height="3.4" fill="none" stroke="#4a4aff" stroke-width="0.8"/>
<rect x="473.3" y="183.10000000000002" width="3.4" height="3.4" fill="none" stroke="#4a4aff" stroke-width="0.8"/>
<rect x="476.8" y="181.9" width="3.4" height="3.4" fill="none" stroke="#4a4aff" stroke-width="0.8"/>
<rect x="479.5" y="180.5" width="3.4" height="3.4" fill="none" stroke="#4a4aff" stroke-width="0.8"/>
<rect x="481.90000000000003" y="178.5" width="3.4" height="3.4" fill="none" stroke="#4a4aff" stroke-width="0.8"/>
<rect x="484.1" y="175.9" width="3.4" height="3.4" fill="none" stroke="#4a4aff" stroke-width="0.8"/>
<rect x="486.5" y="174.10000000000002" width="3.4" height="3.4" fill="none" stroke="#4a4aff" stroke-width="0.8"/>
<rect x="488.5" y="174.9" width="3.4" height="3.4" fill="none" stroke="#4a4aff" stroke-width="0.8"/>
<path d="M570.60,262.00 V270.00" stroke="#ff9f5c" stroke-width="1.0"/>
<circle cx="570.60" cy="266.00" r="1.25" fill="#ff0000"/>
<path d="M573.80,259.00 V269.00" stroke="#ff9f5c" stroke-width="1.0"/>
<circle cx="573.80" cy="264.10" r="1.25" fill="#ff0000"/>
<path d="M576.90,256.00 V267.00" stroke="#ff9f5c" stroke-width="1.0"/>
<circle cx="576.90" cy="261.80" r="1.25" fill="#ff0000"/>
<path d="M580.30,250.00 V262.00" stroke="#ff9f5c" stroke-width="1.0"/>
<circle cx="580.30" cy="256.50" r="1.25" fill="#ff0000"/>
<path d="M583.50,236.00 V248.00" stroke="#ff9f5c" stroke-width="1.0"/>
<circle cx="583.50" cy="242.00" r="1.25" fill="#ff0000"/>
<path d="M586.60,222.00 V233.00" stroke="#ff9f5c" stroke-width="1.0"/>
<circle cx="586.60" cy="228.10" r="1.25" fill="#ff0000"/>
<path d="M589.50,207.10 V221.60" stroke="#ff9f5c" stroke-width="1.0"/>
<circle cx="589.50" cy="214.70" r="1.25" fill="#ff0000"/>
<path d="M592.90,188.90 V205.80" stroke="#ff9f5c" stroke-width="1.0"/>
<circle cx="592.90" cy="197.00" r="1.25" fill="#ff0000"/>
<path d="M596.10,176.90 V194.50" stroke="#ff9f5c" stroke-width="1.0"/>
<circle cx="596.10" cy="185.70" r="1.25" fill="#ff0000"/>
<path d="M599.30,191.40 V207.70" stroke="#ff9f5c" stroke-width="1.0"/>
<circle cx="599.30" cy="199.80" r="1.25" fill="#ff0000"/>
<path d="M602.40,195.80 V211.50" stroke="#ff9f5c" stroke-width="1.0"/>
<circle cx="602.40" cy="204.00" r="1.25" fill="#ff0000"/>
<path d="M605.50,200.20 V214.70" stroke="#ff9f5c" stroke-width="1.0"/>
<circle cx="605.50" cy="207.40" r="1.25" fill="#ff0000"/>
<path d="M608.60,202.10 V216.50" stroke="#ff9f5c" stroke-width="1.0"/>
<circle cx="608.60" cy="209.00" r="1.25" fill="#ff0000"/>
<path d="M611.80,210.00 V224.00" stroke="#ff9f5c" stroke-width="1.0"/>
<circle cx="611.80" cy="216.80" r="1.25" fill="#ff0000"/>
<path d="M614.90,208.00 V222.00" stroke="#ff9f5c" stroke-width="1.0"/>
<circle cx="614.90" cy="214.70" r="1.25" fill="#ff0000"/>
<path d="M617.80,209.00 V222.00" stroke="#ff9f5c" stroke-width="1.0"/>
<circle cx="617.80" cy="215.00" r="1.25" fill="#ff0000"/>
<path d="M620.90,227.00 V237.00" stroke="#ff9f5c" stroke-width="1.0"/>
<circle cx="620.90" cy="232.00" r="1.25" fill="#ff0000"/>
<path d="M624.10,242.00 V252.00" stroke="#ff9f5c" stroke-width="1.0"/>
<circle cx="624.10" cy="247.10" r="1.25" fill="#ff0000"/>
<path d="M627.50,247.00 V258.00" stroke="#ff9f5c" stroke-width="1.0"/>
<circle cx="627.50" cy="252.90" r="1.25" fill="#ff0000"/>
<path d="M630.60,254.00 V262.00" stroke="#ff9f5c" stroke-width="1.0"/>
<circle cx="630.60" cy="258.40" r="1.25" fill="#ff0000"/>
<path d="M633.60,255.70 V269.30" stroke="#ff9f5c" stroke-width="1.0"/>
<circle cx="633.60" cy="262.50" r="1.25" fill="#ff0000"/>
<path d="M637.00,246.80 V265.90" stroke="#ff9f5c" stroke-width="1.0"/>
<circle cx="637.00" cy="256.60" r="1.25" fill="#ff0000"/>
<path d="M640.40,260.00 V270.00" stroke="#ff9f5c" stroke-width="1.0"/>
<circle cx="640.40" cy="265.90" r="1.25" fill="#ff0000"/>
<path d="M643.40,244.80 V269.30" stroke="#ff9f5c" stroke-width="1.0"/>
<circle cx="643.40" cy="257.30" r="1.25" fill="#ff0000"/>
<path d="M646.60,250.90 V269.30" stroke="#ff9f5c" stroke-width="1.0"/>
<circle cx="646.60" cy="260.70" r="1.25" fill="#ff0000"/>
<path d="M649.70,263.00 V271.00" stroke="#ff9f5c" stroke-width="1.0"/>
<circle cx="649.70" cy="267.20" r="1.25" fill="#ff0000"/>
<path d="M653.00,264.00 V271.00" stroke="#ff9f5c" stroke-width="1.0"/>
<circle cx="653.00" cy="267.60" r="1.25" fill="#ff0000"/>
<path d="M656.10,242.00 V263.10" stroke="#ff9f5c" stroke-width="1.0"/>
<circle cx="656.10" cy="253.30" r="1.25" fill="#ff0000"/>
<path d="M659.20,250.90 V265.90" stroke="#ff9f5c" stroke-width="1.0"/>
<circle cx="659.20" cy="258.40" r="1.25" fill="#ff0000"/>
<path d="M662.20,248.00 V260.00" stroke="#ff9f5c" stroke-width="1.0"/>
<circle cx="662.20" cy="253.90" r="1.25" fill="#ff0000"/>
<path d="M665.40,251.00 V263.00" stroke="#ff9f5c" stroke-width="1.0"/>
<circle cx="665.40" cy="257.00" r="1.25" fill="#ff0000"/>
<path d="M668.80,250.00 V260.00" stroke="#ff9f5c" stroke-width="1.0"/>
<circle cx="668.80" cy="254.70" r="1.25" fill="#ff0000"/>
<path d="M586.00,223.00 C586.38,221.42 587.40,218.58 588.30,216.50 C589.20,214.42 590.25,211.75 591.40,210.50 C592.55,209.25 593.73,209.17 595.20,209.00 C596.67,208.83 598.52,209.33 600.20,209.50 C601.88,209.67 603.83,210.25 605.30,210.00 C606.77,209.75 607.75,209.08 609.00,208.00 C610.25,206.92 611.75,204.62 612.80,203.50 C613.85,202.38 614.52,201.22 615.30,201.30 C616.08,201.38 616.80,202.55 617.50,204.00 C618.20,205.45 619.17,208.33 619.50,210.00 C619.83,211.67 619.83,213.50 619.50,214.00 C619.17,214.50 618.20,212.83 617.50,213.00 C616.80,213.17 616.08,213.75 615.30,215.00 C614.52,216.25 613.85,218.92 612.80,220.50 C611.75,222.08 610.25,223.62 609.00,224.50 C607.75,225.38 606.77,225.80 605.30,225.80 C603.83,225.80 601.88,225.22 600.20,224.50 C598.52,223.78 596.67,222.42 595.20,221.50 C593.73,220.58 592.55,218.83 591.40,219.00 C590.25,219.17 589.20,221.33 588.30,222.50 C587.40,223.67 586.38,225.92 586.00,226.00 C585.62,226.08 585.62,224.58 586.00,223.00Z" fill="#b8b8b8" fill-opacity="0.55" stroke="none"/>
<path d="M586.00,223.00 C586.38,221.92 587.40,218.58 588.30,216.50 C589.20,214.42 590.25,211.75 591.40,210.50 C592.55,209.25 593.73,209.17 595.20,209.00 C596.67,208.83 598.52,209.33 600.20,209.50 C601.88,209.67 603.83,210.25 605.30,210.00 C606.77,209.75 607.75,209.08 609.00,208.00 C610.25,206.92 611.75,204.62 612.80,203.50 C613.85,202.38 614.52,201.22 615.30,201.30 C616.08,201.38 616.80,202.55 617.50,204.00 C618.20,205.45 619.17,209.00 619.50,210.00" fill="none" stroke="#9a9a9a" stroke-width="0.6" stroke-opacity="1" stroke-linejoin="round" stroke-linecap="round" />
<path d="M586.00,226.00 C586.38,225.42 587.40,223.67 588.30,222.50 C589.20,221.33 590.25,219.17 591.40,219.00 C592.55,218.83 593.73,220.58 595.20,221.50 C596.67,222.42 598.52,223.78 600.20,224.50 C601.88,225.22 603.83,225.80 605.30,225.80 C606.77,225.80 607.75,225.38 609.00,224.50 C610.25,223.62 611.75,222.08 612.80,220.50 C613.85,218.92 614.52,216.25 615.30,215.00 C616.08,213.75 616.80,213.17 617.50,213.00 C618.20,212.83 619.17,213.83 619.50,214.00" fill="none" stroke="#9a9a9a" stroke-width="0.6" stroke-opacity="1" stroke-linejoin="round" stroke-linecap="round" />
<path d="M588.30,218.10 C588.82,216.32 590.25,213.17 591.40,211.80 C592.55,210.43 593.73,210.00 595.20,209.90 C596.67,209.80 598.52,210.67 600.20,211.20 C601.88,211.73 603.83,213.20 605.30,213.10 C606.77,213.00 607.75,211.97 609.00,210.60 C610.25,209.23 611.75,206.48 612.80,204.90 C613.85,203.32 614.47,201.00 615.30,201.10 C616.13,201.20 617.10,203.72 617.80,205.50 C618.50,207.28 618.87,207.85 619.50,211.80 C620.13,215.75 621.25,225.57 621.60,229.20 C621.95,232.83 621.95,235.77 621.60,233.60 C621.25,231.43 620.13,220.15 619.50,216.20 C618.87,212.25 618.50,211.68 617.80,209.90 C617.10,208.12 616.13,205.60 615.30,205.50 C614.47,205.40 613.85,207.72 612.80,209.30 C611.75,210.88 610.25,213.63 609.00,215.00 C607.75,216.37 606.77,217.40 605.30,217.50 C603.83,217.60 601.88,216.13 600.20,215.60 C598.52,215.07 596.67,214.20 595.20,214.30 C593.73,214.40 592.55,214.83 591.40,216.20 C590.25,217.57 588.82,222.18 588.30,222.50 C587.78,222.82 587.78,219.88 588.30,218.10Z" fill="#a8a8a8" fill-opacity="0.3" stroke="none"/>
<path d="M570.00,261.50 C570.83,260.47 573.43,257.60 575.00,255.30 C576.57,253.00 578.13,250.33 579.40,247.70 C580.67,245.07 581.55,242.65 582.60,239.50 C583.65,236.35 584.75,232.00 585.70,228.80 C586.65,225.60 587.35,222.77 588.30,220.30 C589.25,217.83 590.25,215.37 591.40,214.00 C592.55,212.63 593.73,212.20 595.20,212.10 C596.67,212.00 598.52,212.87 600.20,213.40 C601.88,213.93 603.83,215.40 605.30,215.30 C606.77,215.20 607.75,214.17 609.00,212.80 C610.25,211.43 611.75,208.68 612.80,207.10 C613.85,205.52 614.47,203.20 615.30,203.30 C616.13,203.40 617.10,205.92 617.80,207.70 C618.50,209.48 618.87,210.05 619.50,214.00 C620.13,217.95 620.83,226.42 621.60,231.40 C622.37,236.38 623.27,240.35 624.10,243.90 C624.93,247.45 625.47,249.83 626.60,252.70 C627.73,255.57 629.05,259.02 630.90,261.10 C632.75,263.18 634.98,264.45 637.70,265.20 C640.42,265.95 644.25,265.95 647.20,265.60 C650.15,265.25 652.90,264.42 655.40,263.10 C657.90,261.78 660.03,259.97 662.20,257.70 C664.37,255.43 667.37,250.87 668.40,249.50" fill="none" stroke="#262626" stroke-width="1.6" stroke-opacity="1" stroke-linejoin="round" stroke-linecap="round" />
<path d="M626.60,252.70 C627.32,254.10 629.05,259.02 630.90,261.10 C632.75,263.18 634.98,264.45 637.70,265.20 C640.42,265.95 644.25,265.95 647.20,265.60 C650.15,265.25 654.03,263.52 655.40,263.10" fill="none" stroke="#999" stroke-width="2.6" stroke-opacity="0.5" stroke-linejoin="round" stroke-linecap="round" />
<path d="M52.60,413.90 V431.50" stroke="#ff9f5c" stroke-width="1.0"/>
<circle cx="52.60" cy="423.00" r="1.25" fill="#ff0000"/>
<path d="M57.60,413.90 V431.50" stroke="#ff9f5c" stroke-width="1.0"/>
<circle cx="57.60" cy="423.00" r="1.25" fill="#ff0000"/>
<path d="M62.60,412.60 V430.30" stroke="#ff9f5c" stroke-width="1.0"/>
<circle cx="62.60" cy="420.80" r="1.25" fill="#ff0000"/>
<path d="M67.70,400.00 V417.00" stroke="#ff9f5c" stroke-width="1.0"/>
<circle cx="67.70" cy="408.90" r="1.25" fill="#ff0000"/>
<path d="M73.00,396.30 V413.30" stroke="#ff9f5c" stroke-width="1.0"/>
<circle cx="73.00" cy="405.10" r="1.25" fill="#ff0000"/>
<path d="M78.00,357.00 V374.60" stroke="#ff9f5c" stroke-width="1.0"/>
<circle cx="78.00" cy="366.00" r="1.25" fill="#ff0000"/>
<path d="M83.10,352.00 V368.90" stroke="#ff9f5c" stroke-width="1.0"/>
<circle cx="83.10" cy="360.50" r="1.25" fill="#ff0000"/>
<path d="M88.00,364.50 V378.40" stroke="#ff9f5c" stroke-width="1.0"/>
<circle cx="88.00" cy="369.60" r="1.25" fill="#ff0000"/>
<path d="M93.20,362.60 V376.50" stroke="#ff9f5c" stroke-width="1.0"/>
<circle cx="93.20" cy="369.80" r="1.25" fill="#ff0000"/>
<path d="M97.90,370.00 V381.70" stroke="#ff9f5c" stroke-width="1.0"/>
<circle cx="97.90" cy="375.10" r="1.25" fill="#ff0000"/>
<path d="M103.40,386.00 V399.00" stroke="#ff9f5c" stroke-width="1.0"/>
<circle cx="103.40" cy="392.70" r="1.25" fill="#ff0000"/>
<path d="M108.20,386.10 V399.30" stroke="#ff9f5c" stroke-width="1.0"/>
<circle cx="108.20" cy="392.70" r="1.25" fill="#ff0000"/>
<path d="M113.10,401.50 V415.00" stroke="#ff9f5c" stroke-width="1.0"/>
<circle cx="113.10" cy="408.90" r="1.25" fill="#ff0000"/>
<path d="M118.10,394.20 V405.20" stroke="#ff9f5c" stroke-width="1.0"/>
<circle cx="118.10" cy="397.90" r="1.25" fill="#ff0000"/>
<path d="M123.30,383.90 V397.90" stroke="#ff9f5c" stroke-width="1.0"/>
<circle cx="123.30" cy="390.50" r="1.25" fill="#ff0000"/>
<path d="M128.50,376.60 V390.50" stroke="#ff9f5c" stroke-width="1.0"/>
<circle cx="128.50" cy="383.90" r="1.25" fill="#ff0000"/>
<path d="M133.60,371.40 V384.60" stroke="#ff9f5c" stroke-width="1.0"/>
<circle cx="133.60" cy="378.50" r="1.25" fill="#ff0000"/>
<path d="M138.60,371.40 V385.40" stroke="#ff9f5c" stroke-width="1.0"/>
<circle cx="138.60" cy="378.50" r="1.25" fill="#ff0000"/>
<path d="M143.50,362.60 V376.60" stroke="#ff9f5c" stroke-width="1.0"/>
<circle cx="143.50" cy="369.20" r="1.25" fill="#ff0000"/>
<path d="M149.10,353.80 V367.40" stroke="#ff9f5c" stroke-width="1.0"/>
<circle cx="149.10" cy="360.60" r="1.25" fill="#ff0000"/>
<path d="M52.60,408.50 C53.25,405.88 55.27,406.47 56.50,406.30 C57.73,406.13 58.75,406.72 60.00,407.50 C61.25,408.28 62.83,410.00 64.00,411.00 C65.17,412.00 66.00,413.25 67.00,413.50 C68.00,413.75 69.00,413.92 70.00,412.50 C71.00,411.08 71.92,408.42 73.00,405.00 C74.08,401.58 75.33,396.00 76.50,392.00 C77.67,388.00 78.92,384.67 80.00,381.00 C81.08,377.33 81.83,374.00 83.00,370.00 C84.17,366.00 85.83,360.25 87.00,357.00 C88.17,353.75 89.08,351.97 90.00,350.50 C90.92,349.03 91.67,348.28 92.50,348.20 C93.33,348.12 94.17,348.53 95.00,350.00 C95.83,351.47 96.67,353.50 97.50,357.00 C98.33,360.50 99.08,365.50 100.00,371.00 C100.92,376.50 101.92,385.50 103.00,390.00 C104.08,394.50 105.33,397.25 106.50,398.00 C107.67,398.75 108.25,396.42 110.00,394.50 C111.75,392.58 114.67,388.42 117.00,386.50 C119.33,384.58 121.67,384.08 124.00,383.00 C126.33,381.92 128.50,381.50 131.00,380.00 C133.50,378.50 136.67,376.50 139.00,374.00 C141.33,371.50 143.58,368.50 145.00,365.00 C146.42,361.50 146.90,356.97 147.50,353.00 C148.10,349.03 148.42,339.87 148.60,341.20 C148.78,342.53 148.87,355.37 148.60,361.00 C148.33,366.63 147.77,369.33 147.00,375.00 C146.23,380.67 145.17,390.33 144.00,395.00 C142.83,399.67 141.33,401.58 140.00,403.00 C138.67,404.42 137.33,404.00 136.00,403.50 C134.67,403.00 134.00,401.17 132.00,400.00 C130.00,398.83 126.50,396.83 124.00,396.50 C121.50,396.17 119.33,396.58 117.00,398.00 C114.67,399.42 111.75,403.12 110.00,405.00 C108.25,406.88 107.58,409.13 106.50,409.30 C105.42,409.47 104.42,408.38 103.50,406.00 C102.58,403.62 101.83,399.67 101.00,395.00 C100.17,390.33 99.33,382.50 98.50,378.00 C97.67,373.50 96.83,370.25 96.00,368.00 C95.17,365.75 94.33,364.83 93.50,364.50 C92.67,364.17 91.92,364.75 91.00,366.00 C90.08,367.25 89.17,369.33 88.00,372.00 C86.83,374.67 85.25,378.50 84.00,382.00 C82.75,385.50 81.67,389.67 80.50,393.00 C79.33,396.33 78.25,398.33 77.00,402.00 C75.75,405.67 74.17,411.75 73.00,415.00 C71.83,418.25 71.00,420.12 70.00,421.50 C69.00,422.88 68.00,423.05 67.00,423.30 C66.00,423.55 65.17,423.05 64.00,423.00 C62.83,422.95 61.25,423.00 60.00,423.00 C58.75,423.00 57.73,423.17 56.50,423.00 C55.27,422.83 53.25,424.42 52.60,422.00 C51.95,419.58 51.95,411.12 52.60,408.50Z" fill="#b8b8b8" fill-opacity="0.55" stroke="none"/>
<path d="M52.60,408.50 C53.25,408.13 55.27,406.47 56.50,406.30 C57.73,406.13 58.75,406.72 60.00,407.50 C61.25,408.28 62.83,410.00 64.00,411.00 C65.17,412.00 66.00,413.25 67.00,413.50 C68.00,413.75 69.00,413.92 70.00,412.50 C71.00,411.08 71.92,408.42 73.00,405.00 C74.08,401.58 75.33,396.00 76.50,392.00 C77.67,388.00 78.92,384.67 80.00,381.00 C81.08,377.33 81.83,374.00 83.00,370.00 C84.17,366.00 85.83,360.25 87.00,357.00 C88.17,353.75 89.08,351.97 90.00,350.50 C90.92,349.03 91.67,348.28 92.50,348.20 C93.33,348.12 94.17,348.53 95.00,350.00 C95.83,351.47 96.67,353.50 97.50,357.00 C98.33,360.50 99.08,365.50 100.00,371.00 C100.92,376.50 101.92,385.50 103.00,390.00 C104.08,394.50 105.33,397.25 106.50,398.00 C107.67,398.75 108.25,396.42 110.00,394.50 C111.75,392.58 114.67,388.42 117.00,386.50 C119.33,384.58 121.67,384.08 124.00,383.00 C126.33,381.92 128.50,381.50 131.00,380.00 C133.50,378.50 136.67,376.50 139.00,374.00 C141.33,371.50 143.58,368.50 145.00,365.00 C146.42,361.50 146.90,356.97 147.50,353.00 C148.10,349.03 148.42,343.17 148.60,341.20" fill="none" stroke="#9a9a9a" stroke-width="0.6" stroke-opacity="1" stroke-linejoin="round" stroke-linecap="round" />
<path d="M52.60,422.00 C53.25,422.17 55.27,422.83 56.50,423.00 C57.73,423.17 58.75,423.00 60.00,423.00 C61.25,423.00 62.83,422.95 64.00,423.00 C65.17,423.05 66.00,423.55 67.00,423.30 C68.00,423.05 69.00,422.88 70.00,421.50 C71.00,420.12 71.83,418.25 73.00,415.00 C74.17,411.75 75.75,405.67 77.00,402.00 C78.25,398.33 79.33,396.33 80.50,393.00 C81.67,389.67 82.75,385.50 84.00,382.00 C85.25,378.50 86.83,374.67 88.00,372.00 C89.17,369.33 90.08,367.25 91.00,366.00 C91.92,364.75 92.67,364.17 93.50,364.50 C94.33,364.83 95.17,365.75 96.00,368.00 C96.83,370.25 97.67,373.50 98.50,378.00 C99.33,382.50 100.17,390.33 101.00,395.00 C101.83,399.67 102.58,403.62 103.50,406.00 C104.42,408.38 105.42,409.47 106.50,409.30 C107.58,409.13 108.25,406.88 110.00,405.00 C111.75,403.12 114.67,399.42 117.00,398.00 C119.33,396.58 121.50,396.17 124.00,396.50 C126.50,396.83 130.00,398.83 132.00,400.00 C134.00,401.17 134.67,403.00 136.00,403.50 C137.33,404.00 138.67,404.42 140.00,403.00 C141.33,401.58 142.83,399.67 144.00,395.00 C145.17,390.33 146.23,380.67 147.00,375.00 C147.77,369.33 148.33,363.33 148.60,361.00" fill="none" stroke="#9a9a9a" stroke-width="0.6" stroke-opacity="1" stroke-linejoin="round" stroke-linecap="round" />
<path d="M52.60,410.80 C53.12,410.03 54.65,409.68 55.70,409.80 C56.75,409.92 57.63,410.38 58.90,411.50 C60.17,412.62 61.95,415.25 63.30,416.50 C64.65,417.75 65.85,419.00 67.00,419.00 C68.15,419.00 69.15,418.28 70.20,416.50 C71.25,414.72 72.15,411.77 73.30,408.30 C74.45,404.83 75.93,399.22 77.10,395.70 C78.27,392.18 79.35,389.65 80.30,387.20 C81.25,384.75 81.97,383.93 82.80,381.00 C83.63,378.07 84.15,373.27 85.30,369.60 C86.45,365.93 88.45,361.37 89.70,359.00 C90.95,356.63 91.92,355.73 92.80,355.40 C93.68,355.07 94.15,355.37 95.00,357.00 C95.85,358.63 97.05,361.38 97.90,365.20 C98.75,369.02 99.37,375.25 100.10,379.90 C100.83,384.55 101.60,389.80 102.30,393.10 C103.00,396.40 103.57,398.35 104.30,399.70 C105.03,401.05 105.55,401.57 106.70,401.20 C107.85,400.83 109.48,399.08 111.20,397.50 C112.92,395.92 114.80,393.17 117.00,391.70 C119.20,390.23 121.95,389.93 124.40,388.70 C126.85,387.47 129.25,386.13 131.70,384.30 C134.15,382.47 136.90,380.15 139.10,377.70 C141.30,375.25 143.32,372.65 144.90,369.60 C146.48,366.55 147.98,360.50 148.60,359.40 C149.22,358.30 149.22,360.70 148.60,363.00 C147.98,365.30 146.48,370.15 144.90,373.20 C143.32,376.25 141.30,378.85 139.10,381.30 C136.90,383.75 134.15,386.07 131.70,387.90 C129.25,389.73 126.85,391.07 124.40,392.30 C121.95,393.53 119.20,393.83 117.00,395.30 C114.80,396.77 112.92,399.52 111.20,401.10 C109.48,402.68 107.85,404.43 106.70,404.80 C105.55,405.17 105.03,404.65 104.30,403.30 C103.57,401.95 103.00,400.00 102.30,396.70 C101.60,393.40 100.83,388.15 100.10,383.50 C99.37,378.85 98.75,372.62 97.90,368.80 C97.05,364.98 95.85,362.23 95.00,360.60 C94.15,358.97 93.68,358.67 92.80,359.00 C91.92,359.33 90.95,360.23 89.70,362.60 C88.45,364.97 86.45,369.53 85.30,373.20 C84.15,376.87 83.63,381.67 82.80,384.60 C81.97,387.53 81.25,388.35 80.30,390.80 C79.35,393.25 78.27,395.78 77.10,399.30 C75.93,402.82 74.45,408.43 73.30,411.90 C72.15,415.37 71.25,418.32 70.20,420.10 C69.15,421.88 68.15,422.60 67.00,422.60 C65.85,422.60 64.65,421.35 63.30,420.10 C61.95,418.85 60.17,416.22 58.90,415.10 C57.63,413.98 56.75,413.52 55.70,413.40 C54.65,413.28 53.12,414.83 52.60,414.40 C52.08,413.97 52.08,411.57 52.60,410.80Z" fill="#a8a8a8" fill-opacity="0.3" stroke="none"/>
<path d="M52.60,412.60 C53.12,412.43 54.65,411.48 55.70,411.60 C56.75,411.72 57.63,412.18 58.90,413.30 C60.17,414.42 61.95,417.05 63.30,418.30 C64.65,419.55 65.85,420.80 67.00,420.80 C68.15,420.80 69.15,420.08 70.20,418.30 C71.25,416.52 72.15,413.57 73.30,410.10 C74.45,406.63 75.93,401.02 77.10,397.50 C78.27,393.98 79.35,391.45 80.30,389.00 C81.25,386.55 81.97,385.73 82.80,382.80 C83.63,379.87 84.15,375.07 85.30,371.40 C86.45,367.73 88.45,363.17 89.70,360.80 C90.95,358.43 91.92,357.53 92.80,357.20 C93.68,356.87 94.15,357.17 95.00,358.80 C95.85,360.43 97.05,363.18 97.90,367.00 C98.75,370.82 99.37,377.05 100.10,381.70 C100.83,386.35 101.60,391.60 102.30,394.90 C103.00,398.20 103.57,400.15 104.30,401.50 C105.03,402.85 105.55,403.37 106.70,403.00 C107.85,402.63 109.48,400.88 111.20,399.30 C112.92,397.72 114.80,394.97 117.00,393.50 C119.20,392.03 121.95,391.73 124.40,390.50 C126.85,389.27 129.25,387.93 131.70,386.10 C134.15,384.27 136.90,381.95 139.10,379.50 C141.30,377.05 143.32,374.45 144.90,371.40 C146.48,368.35 147.98,362.90 148.60,361.20" fill="none" stroke="#c8b080" stroke-width="2.5" stroke-opacity="1" stroke-linejoin="round" stroke-linecap="round" />
<path d="M52.60,412.60 C53.12,412.43 54.65,411.48 55.70,411.60 C56.75,411.72 57.63,412.18 58.90,413.30 C60.17,414.42 61.95,417.05 63.30,418.30 C64.65,419.55 65.85,420.80 67.00,420.80 C68.15,420.80 69.15,420.08 70.20,418.30 C71.25,416.52 72.15,413.57 73.30,410.10 C74.45,406.63 75.93,401.02 77.10,397.50 C78.27,393.98 79.35,391.45 80.30,389.00 C81.25,386.55 81.97,385.73 82.80,382.80 C83.63,379.87 84.15,375.07 85.30,371.40 C86.45,367.73 88.45,363.17 89.70,360.80 C90.95,358.43 91.92,357.53 92.80,357.20 C93.68,356.87 94.15,357.17 95.00,358.80 C95.85,360.43 97.05,363.18 97.90,367.00 C98.75,370.82 99.37,377.05 100.10,381.70 C100.83,386.35 101.60,391.60 102.30,394.90 C103.00,398.20 103.57,400.15 104.30,401.50 C105.03,402.85 105.55,403.37 106.70,403.00 C107.85,402.63 109.48,400.88 111.20,399.30 C112.92,397.72 114.80,394.97 117.00,393.50 C119.20,392.03 121.95,391.73 124.40,390.50 C126.85,389.27 129.25,387.93 131.70,386.10 C134.15,384.27 136.90,381.95 139.10,379.50 C141.30,377.05 143.32,374.45 144.90,371.40 C146.48,368.35 147.98,362.90 148.60,361.20" fill="none" stroke="#1a1a1a" stroke-width="1.6" stroke-opacity="1" stroke-linejoin="round" stroke-linecap="round" />
<path d="M266.40,350.10 L294.10,350.10 L294.10,371.40 L288.40,370.20 L280.90,367.70 L272.10,362.60 L268.50,358.50 L266.60,354.00Z" fill="#ff6a00" fill-opacity="1" stroke="none"/>
<path d="M222.8,352 H266.4" stroke="#ff0000" stroke-width="3.1" stroke-linecap="round"/>
<path d="M222,352.1 H266.4" stroke="#2a0000" stroke-width="0.85"/>
<path d="M266.00,352.00 C266.33,352.13 267.20,352.38 268.00,352.80 C268.80,353.22 269.63,353.93 270.80,354.50 C271.97,355.07 273.32,355.68 275.00,356.20 C276.68,356.72 278.45,357.05 280.90,357.60 C283.35,358.15 287.08,358.97 289.70,359.50 C292.32,360.03 295.45,360.58 296.60,360.80" fill="none" stroke="#ff0000" stroke-width="2.8" stroke-opacity="1" stroke-linejoin="round" stroke-linecap="round" />
<path d="M298.70,348.20 V374.00" stroke="#ff9f5c" stroke-width="1.0"/>
<circle cx="298.70" cy="362.60" r="1.25" fill="#ff0000"/>
<path d="M301.60,355.10 V385.00" stroke="#ff9f5c" stroke-width="1.0"/>
<circle cx="301.60" cy="369.60" r="1.25" fill="#ff0000"/>
<path d="M303.80,380.00 V405.00" stroke="#ff9f5c" stroke-width="1.0"/>
<circle cx="303.80" cy="391.00" r="1.25" fill="#ff0000"/>
<path d="M306.30,390.00 V410.00" stroke="#ff9f5c" stroke-width="1.0"/>
<circle cx="306.30" cy="399.80" r="1.25" fill="#ff0000"/>
<path d="M313.60,377.10 V400.00" stroke="#ff9f5c" stroke-width="1.0"/>
<circle cx="313.60" cy="388.80" r="1.25" fill="#ff0000"/>
<path d="M317.00,380.00 V410.00" stroke="#ff9f5c" stroke-width="1.0"/>
<circle cx="317.00" cy="396.10" r="1.25" fill="#ff0000"/>
<path d="M294.00,364.50 C294.50,364.00 296.00,365.25 297.00,366.00 C298.00,366.75 299.00,367.67 300.00,369.00 C301.00,370.33 302.00,371.83 303.00,374.00 C304.00,376.17 305.08,379.00 306.00,382.00 C306.92,385.00 307.83,389.33 308.50,392.00 C309.17,394.67 309.33,397.83 310.00,398.00 C310.67,398.17 311.75,395.17 312.50,393.00 C313.25,390.83 313.82,387.83 314.50,385.00 C315.18,382.17 316.22,366.75 316.60,376.00 C316.98,385.25 316.87,429.75 316.80,440.50 C316.73,451.25 316.83,442.25 316.20,440.50 C315.57,438.75 314.03,433.75 313.00,430.00 C311.97,426.25 310.92,421.83 310.00,418.00 C309.08,414.17 308.25,410.33 307.50,407.00 C306.75,403.67 306.25,401.17 305.50,398.00 C304.75,394.83 303.92,391.33 303.00,388.00 C302.08,384.67 301.00,380.67 300.00,378.00 C299.00,375.33 298.00,373.50 297.00,372.00 C296.00,370.50 294.50,370.25 294.00,369.00 C293.50,367.75 293.50,365.00 294.00,364.50Z" fill="#d0d0d0" fill-opacity="0.75" stroke="none"/>
<path d="M306.00,400.00 L310.00,398.00 L313.00,395.00 L316.80,392.00 L316.80,440.50 L316.20,440.50 L313.00,430.00 L310.00,418.00Z" fill="#d6d6d6" fill-opacity="0.8" stroke="none"/>
<path d="M296.00,370.00 V374.60" stroke="#4848ff" stroke-width="0.9"/>
<path d="M296.00,377.60 V382.00" stroke="#4848ff" stroke-width="0.9"/>
<rect x="294.50" y="374.60" width="3.0" height="3.0" fill="none" stroke="#4848ff" stroke-width="0.9"/>
<path d="M298.50,376.00 V380.00" stroke="#4848ff" stroke-width="0.9"/>
<path d="M298.50,383.00 V388.00" stroke="#4848ff" stroke-width="0.9"/>
<rect x="297.00" y="380.00" width="3.0" height="3.0" fill="none" stroke="#4848ff" stroke-width="0.9"/>
<path d="M301.10,380.00 V384.40" stroke="#4848ff" stroke-width="0.9"/>
<path d="M301.10,387.40 V392.00" stroke="#4848ff" stroke-width="0.9"/>
<rect x="299.60" y="384.40" width="3.0" height="3.0" fill="none" stroke="#4848ff" stroke-width="0.9"/>
<path d="M303.60,390.00 V393.90" stroke="#4848ff" stroke-width="0.9"/>
<path d="M303.60,396.90 V400.00" stroke="#4848ff" stroke-width="0.9"/>
<rect x="302.10" y="393.90" width="3.0" height="3.0" fill="none" stroke="#4848ff" stroke-width="0.9"/>
<path d="M306.30,400.00 V407.80" stroke="#4848ff" stroke-width="0.9"/>
<path d="M306.30,410.80 V418.00" stroke="#4848ff" stroke-width="0.9"/>
<rect x="304.80" y="407.80" width="3.0" height="3.0" fill="none" stroke="#4848ff" stroke-width="0.9"/>
<path d="M308.50,402.00 V407.80" stroke="#4848ff" stroke-width="0.9"/>
<path d="M308.50,410.80 V416.00" stroke="#4848ff" stroke-width="0.9"/>
<rect x="307.00" y="407.80" width="3.0" height="3.0" fill="none" stroke="#4848ff" stroke-width="0.9"/>
<path d="M311.40,402.00 V409.30" stroke="#4848ff" stroke-width="0.9"/>
<path d="M311.40,412.30 V420.00" stroke="#4848ff" stroke-width="0.9"/>
<rect x="309.90" y="409.30" width="3.0" height="3.0" fill="none" stroke="#4848ff" stroke-width="0.9"/>
<path d="M314.30,399.00 V403.40" stroke="#4848ff" stroke-width="0.9"/>
<path d="M314.30,406.40 V411.00" stroke="#4848ff" stroke-width="0.9"/>
<rect x="312.80" y="403.40" width="3.0" height="3.0" fill="none" stroke="#4848ff" stroke-width="0.9"/>
<path d="M316.50,398.00 V402.70" stroke="#4848ff" stroke-width="0.9"/>
<path d="M316.50,405.70 V412.00" stroke="#4848ff" stroke-width="0.9"/>
<rect x="315.00" y="402.70" width="3.0" height="3.0" fill="none" stroke="#4848ff" stroke-width="0.9"/>
<path d="M266.40,352.30 C266.92,352.87 268.07,354.62 269.50,355.70 C270.93,356.78 273.10,357.95 275.00,358.80 C276.90,359.65 278.25,359.95 280.90,360.80 C283.55,361.65 288.38,362.97 290.90,363.90 C293.42,364.83 294.53,365.25 296.00,366.40 C297.47,367.55 298.45,368.92 299.70,370.80 C300.95,372.68 302.53,375.67 303.50,377.70 C304.47,379.73 304.87,381.10 305.50,383.00 C306.13,384.90 306.57,385.82 307.30,389.10 C308.03,392.38 309.20,401.05 309.90,402.70 C310.60,404.35 310.88,400.83 311.50,399.00 C312.12,397.17 312.77,394.62 313.60,391.70 C314.43,388.78 316.02,383.20 316.50,381.50" fill="none" stroke="#2a2a2a" stroke-width="1.35" stroke-opacity="1" stroke-linejoin="round" stroke-linecap="round" />
<path d="M266.40,353.00 C267.33,353.83 269.73,356.33 272.00,358.00 C274.27,359.67 276.50,361.42 280.00,363.00 C283.50,364.58 289.67,365.83 293.00,367.50 C296.33,369.17 298.17,370.75 300.00,373.00 C301.83,375.25 302.95,376.90 304.00,381.00 C305.05,385.10 305.55,393.77 306.30,397.60 C307.05,401.43 307.72,403.60 308.50,404.00 C309.28,404.40 310.58,400.67 311.00,400.00" fill="none" stroke="#777" stroke-width="0.9" stroke-opacity="1" stroke-linejoin="round" stroke-linecap="round" />
<path d="M445.00,355.50 L458.00,352.00 L466.70,349.50 L466.70,356.00 L458.00,356.50 L445.00,358.50Z" fill="#ff6a00" fill-opacity="1" stroke="none"/>
<path d="M440.00,357.50 L452.00,354.00 L466.70,351.00 L466.70,354.80 L452.00,356.70 L440.00,359.80Z" fill="#ff0000" fill-opacity="1" stroke="none"/>
<path d="M394.20,431.20 C395.95,430.90 401.78,430.20 404.70,429.40 C407.62,428.60 409.55,427.88 411.70,426.40 C413.85,424.92 416.05,422.88 417.60,420.50 C419.15,418.12 420.07,415.17 421.00,412.10 C421.93,409.03 422.57,405.45 423.20,402.10 C423.83,398.75 424.25,395.37 424.80,392.00 C425.35,388.63 425.88,384.98 426.50,381.90 C427.12,378.82 427.60,375.88 428.50,373.50 C429.40,371.12 430.50,369.42 431.90,367.60 C433.30,365.78 434.80,364.28 436.90,362.60 C439.00,360.92 441.98,358.72 444.50,357.50 C447.02,356.28 449.42,355.92 452.00,355.30 C454.58,354.68 458.67,354.05 460.00,353.80" fill="none" stroke="#ff0000" stroke-width="2.8" stroke-opacity="1" stroke-linejoin="round" stroke-linecap="round" />
<path d="M394.20,431.20 C395.95,430.90 401.78,430.20 404.70,429.40 C407.62,428.60 409.55,427.88 411.70,426.40 C413.85,424.92 416.05,422.88 417.60,420.50 C419.15,418.12 420.07,415.17 421.00,412.10 C421.93,409.03 422.57,405.45 423.20,402.10 C423.83,398.75 424.25,395.37 424.80,392.00 C425.35,388.63 425.88,384.98 426.50,381.90 C427.12,378.82 427.60,375.88 428.50,373.50 C429.40,371.12 430.50,369.42 431.90,367.60 C433.30,365.78 434.80,364.28 436.90,362.60 C439.00,360.92 441.98,358.72 444.50,357.50 C447.02,356.28 449.42,355.92 452.00,355.30 C454.58,354.68 458.67,354.05 460.00,353.80" fill="none" stroke="#2a0000" stroke-width="0.8" stroke-opacity="1" stroke-linejoin="round" stroke-linecap="round" />
<path d="M452.00,355.30 C453.33,355.05 457.83,354.10 460.00,353.80 C462.17,353.50 463.33,353.67 465.00,353.50 C466.67,353.33 468.25,353.00 470.00,352.80 C471.75,352.60 473.92,352.45 475.50,352.30 C477.08,352.15 478.28,351.57 479.50,351.90 C480.72,352.23 481.85,353.70 482.80,354.30 C483.75,354.90 484.13,355.30 485.20,355.50 C486.27,355.70 488.53,355.50 489.20,355.50" fill="none" stroke="#1a1a1a" stroke-width="1.0" stroke-opacity="1" stroke-linejoin="round" stroke-linecap="round" />
<rect x="467.8" y="349.2" width="2.6" height="2.6" fill="none" stroke="#4040ff" stroke-width="0.8"/>
<rect x="470.2" y="348.2" width="2.6" height="2.6" fill="none" stroke="#4040ff" stroke-width="0.8"/>
<rect x="472.59999999999997" y="349.0" width="2.6" height="2.6" fill="none" stroke="#4040ff" stroke-width="0.8"/>
<rect x="475.2" y="348.5" width="2.6" height="2.6" fill="none" stroke="#4040ff" stroke-width="0.8"/>
<rect x="478.2" y="347.2" width="2.6" height="2.6" fill="none" stroke="#4040ff" stroke-width="0.8"/>
<rect x="480.2" y="346.9" width="2.6" height="2.6" fill="none" stroke="#4040ff" stroke-width="0.8"/>
<rect x="482.3" y="346.2" width="2.6" height="2.6" fill="none" stroke="#4040ff" stroke-width="0.8"/>
<rect x="485.5" y="346.59999999999997" width="2.6" height="2.6" fill="none" stroke="#4040ff" stroke-width="0.8"/>
<rect x="488.3" y="346.59999999999997" width="2.6" height="2.6" fill="none" stroke="#4040ff" stroke-width="0.8"/>
<circle cx="470.70" cy="351.20" r="1.1" fill="#ff0000"/>
<circle cx="474.00" cy="352.00" r="1.1" fill="#ff0000"/>
<circle cx="477.10" cy="352.50" r="1.1" fill="#ff0000"/>
<circle cx="480.30" cy="351.50" r="1.1" fill="#ff0000"/>
<circle cx="484.40" cy="351.00" r="1.1" fill="#ff0000"/>
<circle cx="486.80" cy="353.00" r="1.1" fill="#ff0000"/>
<circle cx="490.00" cy="350.80" r="1.1" fill="#ff0000"/>
<path d="M37.5,0.6 H163.5" fill="none" stroke="#7a7a7a" stroke-width="1"/>
<path d="M163.5,0.6 V125.5" fill="none" stroke="#484848" stroke-width="1"/>
<path d="M37.50,125.5 v-2.2 M43.80,125.5 v-2.2 M50.10,125.5 v-2.2 M56.40,125.5 v-2.2 M62.70,125.5 v-4.2 M69.00,125.5 v-2.2 M75.30,125.5 v-2.2 M81.60,125.5 v-2.2 M87.90,125.5 v-2.2 M94.20,125.5 v-4.2 M100.50,125.5 v-2.2 M106.80,125.5 v-2.2 M113.10,125.5 v-2.2 M119.40,125.5 v-2.2 M125.70,125.5 v-4.2 M132.00,125.5 v-2.2 M138.30,125.5 v-2.2 M144.60,125.5 v-2.2 M150.90,125.5 v-2.2 M157.20,125.5 v-4.2 M163.50,125.5 v-2.2 M37.5,121.00 h4.2 M37.5,111.75 h2.2 M37.5,102.51 h2.2 M37.5,93.26 h2.2 M37.5,84.01 h2.2 M37.5,74.76 h4.2 M37.5,65.51 h2.2 M37.5,56.26 h2.2 M37.5,47.01 h2.2 M37.5,37.76 h2.2 M37.5,28.51 h4.2 M37.5,19.26 h2.2 M37.5,10.01 h2.2 M37.5,0.76 h2.2" fill="none" stroke="#000" stroke-width="1"/>
<path d="M37.5,0.6 V125.5 H163.5" fill="none" stroke="#1a1a1a" stroke-width="1.1"/>
<text transform="translate(62.30,134.50) scale(0.88,1)" text-anchor="middle" class="tl">0.5</text>
<text transform="translate(93.80,134.50) scale(0.88,1)" text-anchor="middle" class="tl">1</text>
<text transform="translate(125.30,134.50) scale(0.88,1)" text-anchor="middle" class="tl">1.5</text>
<text transform="translate(156.80,134.50) scale(0.88,1)" text-anchor="middle" class="tl">2</text>
<text transform="translate(35.70,124.60) scale(0.88,1)" text-anchor="end" class="tl">0</text>
<text transform="translate(35.70,78.36) scale(0.88,1)" text-anchor="end" class="tl">0.5</text>
<text transform="translate(35.70,32.11) scale(0.88,1)" text-anchor="end" class="tl">1</text>
<path d="M117.10,145.30 l0.9,-0.4 l1.3,4.4 l1.4,-8.3 h6.2" fill="none" stroke="#333" stroke-width="0.75"/>
<text x="120.20" y="149.60" class="xt" textLength="5.8" lengthAdjust="spacingAndGlyphs">s</text>
<text x="126.70" y="149.60" class="xt" textLength="31.1" lengthAdjust="spacingAndGlyphs">[GeV/c</text>
<text x="157.90" y="145.30" class="xt" style="font-size:6.5px">2</text>
<text x="161.10" y="149.60" class="xt">]</text>
<path d="M210.5,0.6 H336.5" fill="none" stroke="#7a7a7a" stroke-width="1"/>
<path d="M336.5,0.6 V125.5" fill="none" stroke="#484848" stroke-width="1"/>
<path d="M210.50,125.5 v-2.2 M216.80,125.5 v-2.2 M223.10,125.5 v-2.2 M229.40,125.5 v-2.2 M235.70,125.5 v-4.2 M242.00,125.5 v-2.2 M248.30,125.5 v-2.2 M254.60,125.5 v-2.2 M260.90,125.5 v-2.2 M267.20,125.5 v-4.2 M273.50,125.5 v-2.2 M279.80,125.5 v-2.2 M286.10,125.5 v-2.2 M292.40,125.5 v-2.2 M298.70,125.5 v-4.2 M305.00,125.5 v-2.2 M311.30,125.5 v-2.2 M317.60,125.5 v-2.2 M323.90,125.5 v-2.2 M330.20,125.5 v-4.2 M336.50,125.5 v-2.2 M210.5,125.50 h2.2 M210.5,115.09 h2.2 M210.5,104.68 h4.2 M210.5,94.28 h2.2 M210.5,83.87 h2.2 M210.5,73.46 h2.2 M210.5,63.05 h4.2 M210.5,52.64 h2.2 M210.5,42.23 h2.2 M210.5,31.82 h2.2 M210.5,21.42 h4.2 M210.5,11.01 h2.2 M210.5,0.60 h2.2" fill="none" stroke="#000" stroke-width="1"/>
<path d="M210.5,0.6 V125.5 H336.5" fill="none" stroke="#1a1a1a" stroke-width="1.1"/>
<text transform="translate(235.30,134.50) scale(0.88,1)" text-anchor="middle" class="tl">0.5</text>
<text transform="translate(266.80,134.50) scale(0.88,1)" text-anchor="middle" class="tl">1</text>
<text transform="translate(298.30,134.50) scale(0.88,1)" text-anchor="middle" class="tl">1.5</text>
<text transform="translate(329.80,134.50) scale(0.88,1)" text-anchor="middle" class="tl">2</text>
<text transform="translate(208.70,108.28) scale(0.88,1)" text-anchor="end" class="tl">0</text>
<text transform="translate(208.70,66.65) scale(0.88,1)" text-anchor="end" class="tl">200</text>
<text transform="translate(208.70,25.02) scale(0.88,1)" text-anchor="end" class="tl">400</text>
<path d="M290.10,145.30 l0.9,-0.4 l1.3,4.4 l1.4,-8.3 h6.2" fill="none" stroke="#333" stroke-width="0.75"/>
<text x="293.20" y="149.60" class="xt" textLength="5.8" lengthAdjust="spacingAndGlyphs">s</text>
<text x="299.70" y="149.60" class="xt" textLength="31.1" lengthAdjust="spacingAndGlyphs">[GeV/c</text>
<text x="330.90" y="145.30" class="xt" style="font-size:6.5px">2</text>
<text x="334.10" y="149.60" class="xt">]</text>
<path d="M383.5,0.6 H509.5" fill="none" stroke="#7a7a7a" stroke-width="1"/>
<path d="M509.5,0.6 V125.5" fill="none" stroke="#484848" stroke-width="1"/>
<path d="M383.50,125.5 v-4.2 M389.80,125.5 v-2.2 M396.10,125.5 v-2.2 M402.40,125.5 v-2.2 M408.70,125.5 v-4.2 M415.00,125.5 v-2.2 M421.30,125.5 v-2.2 M427.60,125.5 v-2.2 M433.90,125.5 v-4.2 M440.20,125.5 v-2.2 M446.50,125.5 v-2.2 M452.80,125.5 v-2.2 M459.10,125.5 v-4.2 M465.40,125.5 v-2.2 M471.70,125.5 v-2.2 M478.00,125.5 v-2.2 M484.30,125.5 v-4.2 M490.60,125.5 v-2.2 M496.90,125.5 v-2.2 M503.20,125.5 v-2.2 M509.50,125.5 v-4.2 M383.5,125.50 h2.2 M383.5,118.15 h2.2 M383.5,110.81 h2.2 M383.5,103.46 h4.2 M383.5,96.11 h2.2 M383.5,88.76 h2.2 M383.5,81.42 h2.2 M383.5,74.07 h4.2 M383.5,66.72 h2.2 M383.5,59.38 h2.2 M383.5,52.03 h2.2 M383.5,44.68 h4.2 M383.5,37.34 h2.2 M383.5,29.99 h2.2 M383.5,22.64 h2.2 M383.5,15.29 h4.2 M383.5,7.95 h2.2 M383.5,0.60 h2.2" fill="none" stroke="#000" stroke-width="1"/>
<path d="M383.5,0.6 V125.5 H509.5" fill="none" stroke="#1a1a1a" stroke-width="1.1"/>
<text transform="translate(383.10,134.50) scale(0.88,1)" text-anchor="middle" class="tl">1</text>
<text transform="translate(408.30,134.50) scale(0.88,1)" text-anchor="middle" class="tl">1.2</text>
<text transform="translate(433.50,134.50) scale(0.88,1)" text-anchor="middle" class="tl">1.4</text>
<text transform="translate(458.70,134.50) scale(0.88,1)" text-anchor="middle" class="tl">1.6</text>
<text transform="translate(483.90,134.50) scale(0.88,1)" text-anchor="middle" class="tl">1.8</text>
<text transform="translate(509.10,134.50) scale(0.88,1)" text-anchor="middle" class="tl">2</text>
<text transform="translate(381.70,107.06) scale(0.88,1)" text-anchor="end" class="tl">0</text>
<text transform="translate(381.70,77.67) scale(0.88,1)" text-anchor="end" class="tl">0.02</text>
<text transform="translate(381.70,48.28) scale(0.88,1)" text-anchor="end" class="tl">0.04</text>
<text transform="translate(381.70,18.89) scale(0.88,1)" text-anchor="end" class="tl">0.06</text>
<path d="M463.10,145.30 l0.9,-0.4 l1.3,4.4 l1.4,-8.3 h6.2" fill="none" stroke="#333" stroke-width="0.75"/>
<text x="466.20" y="149.60" class="xt" textLength="5.8" lengthAdjust="spacingAndGlyphs">s</text>
<text x="472.70" y="149.60" class="xt" textLength="31.1" lengthAdjust="spacingAndGlyphs">[GeV/c</text>
<text x="503.90" y="145.30" class="xt" style="font-size:6.5px">2</text>
<text x="507.10" y="149.60" class="xt">]</text>
<path d="M556.5,0.6 H682.6" fill="none" stroke="#7a7a7a" stroke-width="1"/>
<path d="M682.6,0.6 V125.5" fill="none" stroke="#484848" stroke-width="1"/>
<path d="M556.50,125.5 v-2.2 M563.32,125.5 v-4.2 M570.13,125.5 v-2.2 M576.95,125.5 v-2.2 M583.76,125.5 v-2.2 M590.58,125.5 v-2.2 M597.40,125.5 v-4.2 M604.21,125.5 v-2.2 M611.03,125.5 v-2.2 M617.85,125.5 v-2.2 M624.66,125.5 v-2.2 M631.48,125.5 v-4.2 M638.29,125.5 v-2.2 M645.11,125.5 v-2.2 M651.93,125.5 v-2.2 M658.74,125.5 v-2.2 M665.56,125.5 v-4.2 M672.38,125.5 v-2.2 M679.19,125.5 v-2.2 M556.5,125.50 h2.2 M556.5,115.09 h2.2 M556.5,104.68 h4.2 M556.5,94.28 h2.2 M556.5,83.87 h2.2 M556.5,73.46 h2.2 M556.5,63.05 h4.2 M556.5,52.64 h2.2 M556.5,42.23 h2.2 M556.5,31.83 h2.2 M556.5,21.42 h4.2 M556.5,11.01 h2.2 M556.5,0.60 h2.2" fill="none" stroke="#000" stroke-width="1"/>
<path d="M556.5,0.6 V125.5 H682.6" fill="none" stroke="#1a1a1a" stroke-width="1.1"/>
<text transform="translate(562.92,134.50) scale(0.88,1)" text-anchor="middle" class="tl">1.5</text>
<text transform="translate(597.00,134.50) scale(0.88,1)" text-anchor="middle" class="tl">1.6</text>
<text transform="translate(631.08,134.50) scale(0.88,1)" text-anchor="middle" class="tl">1.7</text>
<text transform="translate(665.16,134.50) scale(0.88,1)" text-anchor="middle" class="tl">1.8</text>
<text transform="translate(554.70,108.28) scale(0.88,1)" text-anchor="end" class="tl">0.02</text>
<text transform="translate(554.70,66.65) scale(0.88,1)" text-anchor="end" class="tl">0.04</text>
<text transform="translate(554.70,25.02) scale(0.88,1)" text-anchor="end" class="tl">0.06</text>
<path d="M636.20,145.30 l0.9,-0.4 l1.3,4.4 l1.4,-8.3 h6.2" fill="none" stroke="#333" stroke-width="0.75"/>
<text x="639.30" y="149.60" class="xt" textLength="5.8" lengthAdjust="spacingAndGlyphs">s</text>
<text x="645.80" y="149.60" class="xt" textLength="31.1" lengthAdjust="spacingAndGlyphs">[GeV/c</text>
<text x="677.00" y="145.30" class="xt" style="font-size:6.5px">2</text>
<text x="680.20" y="149.60" class="xt">]</text>
<path d="M37.5,163.0 H163.5" fill="none" stroke="#484848" stroke-width="1"/>
<path d="M163.5,163.0 V287.5" fill="none" stroke="#484848" stroke-width="1"/>
<path d="M37.50,287.5 v-2.2 M48.95,287.5 v-4.2 M60.41,287.5 v-2.2 M71.86,287.5 v-2.2 M83.32,287.5 v-2.2 M94.77,287.5 v-2.2 M106.23,287.5 v-4.2 M117.68,287.5 v-2.2 M129.14,287.5 v-2.2 M140.59,287.5 v-2.2 M152.05,287.5 v-2.2 M163.50,287.5 v-4.2 M37.5,284.14 h2.2 M37.5,277.41 h2.2 M37.5,270.68 h4.2 M37.5,263.95 h2.2 M37.5,257.22 h2.2 M37.5,250.49 h2.2 M37.5,243.76 h2.2 M37.5,237.03 h4.2 M37.5,230.30 h2.2 M37.5,223.57 h2.2 M37.5,216.84 h2.2 M37.5,210.11 h2.2 M37.5,203.38 h4.2 M37.5,196.65 h2.2 M37.5,189.92 h2.2 M37.5,183.19 h2.2 M37.5,176.46 h2.2 M37.5,169.73 h4.2 M37.5,163.00 h2.2" fill="none" stroke="#000" stroke-width="1"/>
<path d="M37.5,163.0 V287.5 H163.5" fill="none" stroke="#1a1a1a" stroke-width="1.1"/>
<text transform="translate(48.55,296.50) scale(0.88,1)" text-anchor="middle" class="tl">1</text>
<text transform="translate(105.83,296.50) scale(0.88,1)" text-anchor="middle" class="tl">1.5</text>
<text transform="translate(163.10,296.50) scale(0.88,1)" text-anchor="middle" class="tl">2</text>
<text transform="translate(35.70,274.28) scale(0.88,1)" text-anchor="end" class="tl">0</text>
<text transform="translate(35.70,240.63) scale(0.88,1)" text-anchor="end" class="tl">0.1</text>
<text transform="translate(35.70,206.98) scale(0.88,1)" text-anchor="end" class="tl">0.2</text>
<text transform="translate(35.70,173.33) scale(0.88,1)" text-anchor="end" class="tl">0.3</text>
<path d="M117.10,307.70 l0.9,-0.4 l1.3,4.4 l1.4,-8.3 h6.2" fill="none" stroke="#333" stroke-width="0.75"/>
<text x="120.20" y="312.00" class="xt" textLength="5.8" lengthAdjust="spacingAndGlyphs">s</text>
<text x="126.70" y="312.00" class="xt" textLength="31.1" lengthAdjust="spacingAndGlyphs">[GeV/c</text>
<text x="157.90" y="307.70" class="xt" style="font-size:6.5px">2</text>
<text x="161.10" y="312.00" class="xt">]</text>
<path d="M210.5,163.0 H336.5" fill="none" stroke="#484848" stroke-width="1"/>
<path d="M336.5,163.0 V287.5" fill="none" stroke="#484848" stroke-width="1"/>
<path d="M210.50,287.5 v-2.2 M216.80,287.5 v-2.2 M223.10,287.5 v-2.2 M229.40,287.5 v-2.2 M235.70,287.5 v-4.2 M242.00,287.5 v-2.2 M248.30,287.5 v-2.2 M254.60,287.5 v-2.2 M260.90,287.5 v-2.2 M267.20,287.5 v-4.2 M273.50,287.5 v-2.2 M279.80,287.5 v-2.2 M286.10,287.5 v-2.2 M292.40,287.5 v-2.2 M298.70,287.5 v-4.2 M305.00,287.5 v-2.2 M311.30,287.5 v-2.2 M317.60,287.5 v-2.2 M323.90,287.5 v-2.2 M330.20,287.5 v-4.2 M336.50,287.5 v-2.2 M210.5,287.50 h2.2 M210.5,277.12 h2.2 M210.5,266.75 h4.2 M210.5,256.38 h2.2 M210.5,246.00 h2.2 M210.5,235.62 h2.2 M210.5,225.25 h4.2 M210.5,214.88 h2.2 M210.5,204.50 h2.2 M210.5,194.13 h2.2 M210.5,183.75 h4.2 M210.5,173.38 h2.2 M210.5,163.00 h2.2" fill="none" stroke="#000" stroke-width="1"/>
<path d="M210.5,163.0 V287.5 H336.5" fill="none" stroke="#1a1a1a" stroke-width="1.1"/>
<text transform="translate(235.30,296.50) scale(0.88,1)" text-anchor="middle" class="tl">0.5</text>
<text transform="translate(266.80,296.50) scale(0.88,1)" text-anchor="middle" class="tl">1</text>
<text transform="translate(298.30,296.50) scale(0.88,1)" text-anchor="middle" class="tl">1.5</text>
<text transform="translate(329.80,296.50) scale(0.88,1)" text-anchor="middle" class="tl">2</text>
<text transform="translate(208.70,270.35) scale(0.88,1)" text-anchor="end" class="tl">0.6</text>
<text transform="translate(208.70,228.85) scale(0.88,1)" text-anchor="end" class="tl">0.8</text>
<text transform="translate(208.70,187.35) scale(0.88,1)" text-anchor="end" class="tl">1</text>
<path d="M290.10,307.70 l0.9,-0.4 l1.3,4.4 l1.4,-8.3 h6.2" fill="none" stroke="#333" stroke-width="0.75"/>
<text x="293.20" y="312.00" class="xt" textLength="5.8" lengthAdjust="spacingAndGlyphs">s</text>
<text x="299.70" y="312.00" class="xt" textLength="31.1" lengthAdjust="spacingAndGlyphs">[GeV/c</text>
<text x="330.90" y="307.70" class="xt" style="font-size:6.5px">2</text>
<text x="334.10" y="312.00" class="xt">]</text>
<path d="M383.5,163.0 H509.5" fill="none" stroke="#484848" stroke-width="1"/>
<path d="M509.5,163.0 V287.5" fill="none" stroke="#484848" stroke-width="1"/>
<path d="M383.50,287.5 v-2.2 M389.80,287.5 v-2.2 M396.10,287.5 v-2.2 M402.40,287.5 v-2.2 M408.70,287.5 v-4.2 M415.00,287.5 v-2.2 M421.30,287.5 v-2.2 M427.60,287.5 v-2.2 M433.90,287.5 v-2.2 M440.20,287.5 v-4.2 M446.50,287.5 v-2.2 M452.80,287.5 v-2.2 M459.10,287.5 v-2.2 M465.40,287.5 v-2.2 M471.70,287.5 v-4.2 M478.00,287.5 v-2.2 M484.30,287.5 v-2.2 M490.60,287.5 v-2.2 M496.90,287.5 v-2.2 M503.20,287.5 v-4.2 M509.50,287.5 v-2.2 M383.5,287.50 h2.2 M383.5,282.52 h2.2 M383.5,277.54 h2.2 M383.5,272.56 h2.2 M383.5,267.58 h4.2 M383.5,262.60 h2.2 M383.5,257.62 h2.2 M383.5,252.64 h2.2 M383.5,247.66 h2.2 M383.5,242.68 h4.2 M383.5,237.70 h2.2 M383.5,232.72 h2.2 M383.5,227.74 h2.2 M383.5,222.76 h2.2 M383.5,217.78 h4.2 M383.5,212.80 h2.2 M383.5,207.82 h2.2 M383.5,202.84 h2.2 M383.5,197.86 h2.2 M383.5,192.88 h4.2 M383.5,187.90 h2.2 M383.5,182.92 h2.2 M383.5,177.94 h2.2 M383.5,172.96 h2.2 M383.5,167.98 h4.2 M383.5,163.00 h2.2" fill="none" stroke="#000" stroke-width="1"/>
<path d="M383.5,163.0 V287.5 H509.5" fill="none" stroke="#1a1a1a" stroke-width="1.1"/>
<text transform="translate(408.30,296.50) scale(0.88,1)" text-anchor="middle" class="tl">0.5</text>
<text transform="translate(439.80,296.50) scale(0.88,1)" text-anchor="middle" class="tl">1</text>
<text transform="translate(471.30,296.50) scale(0.88,1)" text-anchor="middle" class="tl">1.5</text>
<text transform="translate(502.80,296.50) scale(0.88,1)" text-anchor="middle" class="tl">2</text>
<text transform="translate(381.70,271.18) scale(0.88,1)" text-anchor="end" class="tl">0</text>
<text transform="translate(381.70,246.28) scale(0.88,1)" text-anchor="end" class="tl">50</text>
<text transform="translate(381.70,221.38) scale(0.88,1)" text-anchor="end" class="tl">100</text>
<text transform="translate(381.70,196.48) scale(0.88,1)" text-anchor="end" class="tl">150</text>
<text transform="translate(381.70,171.58) scale(0.88,1)" text-anchor="end" class="tl">200</text>
<path d="M463.10,307.70 l0.9,-0.4 l1.3,4.4 l1.4,-8.3 h6.2" fill="none" stroke="#333" stroke-width="0.75"/>
<text x="466.20" y="312.00" class="xt" textLength="5.8" lengthAdjust="spacingAndGlyphs">s</text>
<text x="472.70" y="312.00" class="xt" textLength="31.1" lengthAdjust="spacingAndGlyphs">[GeV/c</text>
<text x="503.90" y="307.70" class="xt" style="font-size:6.5px">2</text>
<text x="507.10" y="312.00" class="xt">]</text>
<path d="M556.5,163.0 H682.6" fill="none" stroke="#484848" stroke-width="1"/>
<path d="M682.6,163.0 V287.5" fill="none" stroke="#484848" stroke-width="1"/>
<path d="M556.50,287.5 v-4.2 M562.81,287.5 v-2.2 M569.11,287.5 v-2.2 M575.41,287.5 v-2.2 M581.72,287.5 v-4.2 M588.02,287.5 v-2.2 M594.33,287.5 v-2.2 M600.63,287.5 v-2.2 M606.94,287.5 v-4.2 M613.25,287.5 v-2.2 M619.55,287.5 v-2.2 M625.86,287.5 v-2.2 M632.16,287.5 v-4.2 M638.47,287.5 v-2.2 M644.77,287.5 v-2.2 M651.08,287.5 v-2.2 M657.38,287.5 v-4.2 M663.69,287.5 v-2.2 M669.99,287.5 v-2.2 M676.30,287.5 v-2.2 M682.60,287.5 v-4.2 M556.5,283.94 h2.2 M556.5,276.83 h2.2 M556.5,269.71 h4.2 M556.5,262.60 h2.2 M556.5,255.49 h2.2 M556.5,248.37 h2.2 M556.5,241.26 h2.2 M556.5,234.14 h4.2 M556.5,227.03 h2.2 M556.5,219.91 h2.2 M556.5,212.80 h2.2 M556.5,205.69 h2.2 M556.5,198.57 h4.2 M556.5,191.46 h2.2 M556.5,184.34 h2.2 M556.5,177.23 h2.2 M556.5,170.11 h2.2 M556.5,163.00 h4.2" fill="none" stroke="#000" stroke-width="1"/>
<path d="M556.5,163.0 V287.5 H682.6" fill="none" stroke="#1a1a1a" stroke-width="1.1"/>
<text transform="translate(556.10,296.50) scale(0.88,1)" text-anchor="middle" class="tl">1</text>
<text transform="translate(581.32,296.50) scale(0.88,1)" text-anchor="middle" class="tl">1.2</text>
<text transform="translate(606.54,296.50) scale(0.88,1)" text-anchor="middle" class="tl">1.4</text>
<text transform="translate(631.76,296.50) scale(0.88,1)" text-anchor="middle" class="tl">1.6</text>
<text transform="translate(656.98,296.50) scale(0.88,1)" text-anchor="middle" class="tl">1.8</text>
<text transform="translate(682.20,296.50) scale(0.88,1)" text-anchor="middle" class="tl">2</text>
<text transform="translate(554.70,273.31) scale(0.88,1)" text-anchor="end" class="tl">0</text>
<text transform="translate(554.70,237.74) scale(0.88,1)" text-anchor="end" class="tl">0.1</text>
<text transform="translate(554.70,202.17) scale(0.88,1)" text-anchor="end" class="tl">0.2</text>
<text transform="translate(554.70,166.60) scale(0.88,1)" text-anchor="end" class="tl">0.3</text>
<path d="M636.20,307.70 l0.9,-0.4 l1.3,4.4 l1.4,-8.3 h6.2" fill="none" stroke="#333" stroke-width="0.75"/>
<text x="639.30" y="312.00" class="xt" textLength="5.8" lengthAdjust="spacingAndGlyphs">s</text>
<text x="645.80" y="312.00" class="xt" textLength="31.1" lengthAdjust="spacingAndGlyphs">[GeV/c</text>
<text x="677.00" y="307.70" class="xt" style="font-size:6.5px">2</text>
<text x="680.20" y="312.00" class="xt">]</text>
<path d="M37.5,325.5 H163.5" fill="none" stroke="#484848" stroke-width="1"/>
<path d="M163.5,325.5 V449.5" fill="none" stroke="#484848" stroke-width="1"/>
<path d="M37.50,449.5 v-4.2 M43.80,449.5 v-2.2 M50.10,449.5 v-2.2 M56.40,449.5 v-2.2 M62.70,449.5 v-4.2 M69.00,449.5 v-2.2 M75.30,449.5 v-2.2 M81.60,449.5 v-2.2 M87.90,449.5 v-4.2 M94.20,449.5 v-2.2 M100.50,449.5 v-2.2 M106.80,449.5 v-2.2 M113.10,449.5 v-4.2 M119.40,449.5 v-2.2 M125.70,449.5 v-2.2 M132.00,449.5 v-2.2 M138.30,449.5 v-4.2 M144.60,449.5 v-2.2 M150.90,449.5 v-2.2 M157.20,449.5 v-2.2 M163.50,449.5 v-4.2 M37.5,449.50 h2.2 M37.5,440.64 h2.2 M37.5,431.79 h2.2 M37.5,422.93 h4.2 M37.5,414.07 h2.2 M37.5,405.21 h2.2 M37.5,396.36 h2.2 M37.5,387.50 h4.2 M37.5,378.64 h2.2 M37.5,369.79 h2.2 M37.5,360.93 h2.2 M37.5,352.07 h4.2 M37.5,343.21 h2.2 M37.5,334.36 h2.2 M37.5,325.50 h2.2" fill="none" stroke="#000" stroke-width="1"/>
<path d="M37.5,325.5 V449.5 H163.5" fill="none" stroke="#1a1a1a" stroke-width="1.1"/>
<text transform="translate(37.10,458.50) scale(0.88,1)" text-anchor="middle" class="tl">1</text>
<text transform="translate(62.30,458.50) scale(0.88,1)" text-anchor="middle" class="tl">1.2</text>
<text transform="translate(87.50,458.50) scale(0.88,1)" text-anchor="middle" class="tl">1.4</text>
<text transform="translate(112.70,458.50) scale(0.88,1)" text-anchor="middle" class="tl">1.6</text>
<text transform="translate(137.90,458.50) scale(0.88,1)" text-anchor="middle" class="tl">1.8</text>
<text transform="translate(163.10,458.50) scale(0.88,1)" text-anchor="middle" class="tl">2</text>
<text transform="translate(35.70,426.53) scale(0.88,1)" text-anchor="end" class="tl">0</text>
<text transform="translate(35.70,391.10) scale(0.88,1)" text-anchor="end" class="tl">0.02</text>
<text transform="translate(35.70,355.67) scale(0.88,1)" text-anchor="end" class="tl">0.04</text>
<path d="M117.10,469.10 l0.9,-0.4 l1.3,4.4 l1.4,-8.3 h6.2" fill="none" stroke="#333" stroke-width="0.75"/>
<text x="120.20" y="473.40" class="xt" textLength="5.8" lengthAdjust="spacingAndGlyphs">s</text>
<text x="126.70" y="473.40" class="xt" textLength="31.1" lengthAdjust="spacingAndGlyphs">[GeV/c</text>
<text x="157.90" y="469.10" class="xt" style="font-size:6.5px">2</text>
<text x="161.10" y="473.40" class="xt">]</text>
<path d="M210.5,325.5 H336.5" fill="none" stroke="#484848" stroke-width="1"/>
<path d="M336.5,325.5 V449.5" fill="none" stroke="#484848" stroke-width="1"/>
<path d="M210.50,449.5 v-2.2 M216.80,449.5 v-2.2 M223.10,449.5 v-2.2 M229.40,449.5 v-2.2 M235.70,449.5 v-4.2 M242.00,449.5 v-2.2 M248.30,449.5 v-2.2 M254.60,449.5 v-2.2 M260.90,449.5 v-2.2 M267.20,449.5 v-4.2 M273.50,449.5 v-2.2 M279.80,449.5 v-2.2 M286.10,449.5 v-2.2 M292.40,449.5 v-2.2 M298.70,449.5 v-4.2 M305.00,449.5 v-2.2 M311.30,449.5 v-2.2 M317.60,449.5 v-2.2 M323.90,449.5 v-2.2 M330.20,449.5 v-4.2 M336.50,449.5 v-2.2 M210.5,449.50 h2.2 M210.5,440.64 h2.2 M210.5,431.79 h2.2 M210.5,422.93 h4.2 M210.5,414.07 h2.2 M210.5,405.21 h2.2 M210.5,396.36 h2.2 M210.5,387.50 h4.2 M210.5,378.64 h2.2 M210.5,369.79 h2.2 M210.5,360.93 h2.2 M210.5,352.07 h4.2 M210.5,343.21 h2.2 M210.5,334.36 h2.2 M210.5,325.50 h2.2" fill="none" stroke="#000" stroke-width="1"/>
<path d="M210.5,325.5 V449.5 H336.5" fill="none" stroke="#1a1a1a" stroke-width="1.1"/>
<text transform="translate(235.30,458.50) scale(0.88,1)" text-anchor="middle" class="tl">0.5</text>
<text transform="translate(266.80,458.50) scale(0.88,1)" text-anchor="middle" class="tl">1</text>
<text transform="translate(298.30,458.50) scale(0.88,1)" text-anchor="middle" class="tl">1.5</text>
<text transform="translate(329.80,458.50) scale(0.88,1)" text-anchor="middle" class="tl">2</text>
<text transform="translate(208.70,426.53) scale(0.88,1)" text-anchor="end" class="tl">0.6</text>
<text transform="translate(208.70,391.10) scale(0.88,1)" text-anchor="end" class="tl">0.8</text>
<text transform="translate(208.70,355.67) scale(0.88,1)" text-anchor="end" class="tl">1</text>
<path d="M290.10,469.10 l0.9,-0.4 l1.3,4.4 l1.4,-8.3 h6.2" fill="none" stroke="#333" stroke-width="0.75"/>
<text x="293.20" y="473.40" class="xt" textLength="5.8" lengthAdjust="spacingAndGlyphs">s</text>
<text x="299.70" y="473.40" class="xt" textLength="31.1" lengthAdjust="spacingAndGlyphs">[GeV/c</text>
<text x="330.90" y="469.10" class="xt" style="font-size:6.5px">2</text>
<text x="334.10" y="473.40" class="xt">]</text>
<path d="M383.5,325.5 H509.5" fill="none" stroke="#484848" stroke-width="1"/>
<path d="M509.5,325.5 V449.5" fill="none" stroke="#484848" stroke-width="1"/>
<path d="M383.50,449.5 v-2.2 M389.80,449.5 v-2.2 M396.10,449.5 v-2.2 M402.40,449.5 v-2.2 M408.70,449.5 v-4.2 M415.00,449.5 v-2.2 M421.30,449.5 v-2.2 M427.60,449.5 v-2.2 M433.90,449.5 v-2.2 M440.20,449.5 v-4.2 M446.50,449.5 v-2.2 M452.80,449.5 v-2.2 M459.10,449.5 v-2.2 M465.40,449.5 v-2.2 M471.70,449.5 v-4.2 M478.00,449.5 v-2.2 M484.30,449.5 v-2.2 M490.60,449.5 v-2.2 M496.90,449.5 v-2.2 M503.20,449.5 v-4.2 M509.50,449.5 v-2.2 M383.5,449.50 h2.2 M383.5,440.31 h2.2 M383.5,431.13 h4.2 M383.5,421.94 h2.2 M383.5,412.76 h2.2 M383.5,403.57 h2.2 M383.5,394.39 h2.2 M383.5,385.20 h4.2 M383.5,376.02 h2.2 M383.5,366.83 h2.2 M383.5,357.65 h2.2 M383.5,348.46 h2.2 M383.5,339.28 h4.2 M383.5,330.09 h2.2" fill="none" stroke="#000" stroke-width="1"/>
<path d="M383.5,325.5 V449.5 H509.5" fill="none" stroke="#1a1a1a" stroke-width="1.1"/>
<text transform="translate(408.30,458.50) scale(0.88,1)" text-anchor="middle" class="tl">0.5</text>
<text transform="translate(439.80,458.50) scale(0.88,1)" text-anchor="middle" class="tl">1</text>
<text transform="translate(471.30,458.50) scale(0.88,1)" text-anchor="middle" class="tl">1.5</text>
<text transform="translate(502.80,458.50) scale(0.88,1)" text-anchor="middle" class="tl">2</text>
<text transform="translate(381.70,434.73) scale(0.88,1)" text-anchor="end" class="tl">0</text>
<text transform="translate(381.70,388.80) scale(0.88,1)" text-anchor="end" class="tl">100</text>
<text transform="translate(381.70,342.88) scale(0.88,1)" text-anchor="end" class="tl">200</text>
<path d="M463.10,469.10 l0.9,-0.4 l1.3,4.4 l1.4,-8.3 h6.2" fill="none" stroke="#333" stroke-width="0.75"/>
<text x="466.20" y="473.40" class="xt" textLength="5.8" lengthAdjust="spacingAndGlyphs">s</text>
<text x="472.70" y="473.40" class="xt" textLength="31.1" lengthAdjust="spacingAndGlyphs">[GeV/c</text>
<text x="503.90" y="469.10" class="xt" style="font-size:6.5px">2</text>
<text x="507.10" y="473.40" class="xt">]</text>
<text x="46.6" y="15.3" class="pl">a</text>
<text x="84.0" y="15.8" class="wv">S Wave</text>
<text x="219.8" y="16.9" class="pl">b</text>
<text x="257.0" y="15.8" class="wv">S Wave</text>
<text x="392.6" y="15.8" class="pl">c</text>
<text x="430.0" y="15.8" class="wv">S Wave</text>
<text x="565.8" y="16.5" class="pl">d</text>
<text x="603.0" y="15.8" class="wv">S Wave</text>
<text x="46.6" y="178.0" class="pl">e</text>
<text x="84.0" y="177.6" class="wv">S Wave</text>
<text x="219.8" y="177.8" class="pl">f</text>
<text x="257.0" y="177.6" class="wv">D Wave</text>
<text x="392.6" y="178.0" class="pl">g</text>
<text x="430.0" y="177.6" class="wv">D Wave</text>
<text x="565.8" y="178.5" class="pl">h</text>
<text x="603.0" y="177.6" class="wv">D Wave</text>
<text x="46.6" y="341.1" class="pl">i</text>
<text x="84.0" y="339.3" class="wv">D Wave</text>
<text x="219.8" y="341.1" class="pl">j</text>
<text x="257.0" y="339.3" class="wv">P1 Wave</text>
<text x="392.6" y="341.1" class="pl">k</text>
<text x="430.0" y="339.3" class="wv">P1 Wave</text>
<text transform="translate(10.6,62.5) rotate(-90)" text-anchor="middle" class="yt" style="font-size:11.4px">η</text>
<text transform="translate(186.2,62.5) rotate(-90)" text-anchor="middle" class="yt" style="font-size:11.4px">δ</text>
<text transform="translate(356.50,94.50) rotate(-90)" class="yt" style="font-size:10.3px" textLength="5.30" lengthAdjust="spacingAndGlyphs">ρ</text>
<text transform="translate(361.60,88.90) rotate(-90)" class="yt" style="font-size:6.5px" textLength="7.40" lengthAdjust="spacingAndGlyphs">ππ</text>
<text transform="translate(356.50,81.20) rotate(-90)" class="yt" style="font-size:10.3px" textLength="5.40" lengthAdjust="spacingAndGlyphs">ρ</text>
<text transform="translate(361.60,75.70) rotate(-90)" class="yt" style="font-size:6.5px" textLength="6.70" lengthAdjust="spacingAndGlyphs">ηη</text>
<text transform="translate(356.50,66.20) rotate(-90)" class="yt" style="font-size:10.3px" textLength="6.60" lengthAdjust="spacingAndGlyphs">T</text>
<text transform="translate(361.60,59.50) rotate(-90)" class="yt" style="font-size:6.5px" textLength="21.90" lengthAdjust="spacingAndGlyphs">ππ→ηη</text>
<text transform="translate(352.40,36.30) rotate(-90)" class="yt" style="font-size:7.4px" textLength="4.00" lengthAdjust="spacingAndGlyphs">2</text>
<path d="M349.50,67.40 H358.60" stroke="#222" stroke-width="0.9"/>
<path d="M349.50,36.50 H358.60" stroke="#222" stroke-width="0.9"/>
<text transform="translate(529.50,94.50) rotate(-90)" class="yt" style="font-size:10.3px" textLength="5.30" lengthAdjust="spacingAndGlyphs">ρ</text>
<text transform="translate(534.60,88.90) rotate(-90)" class="yt" style="font-size:6.5px" textLength="7.40" lengthAdjust="spacingAndGlyphs">ππ</text>
<text transform="translate(529.50,81.20) rotate(-90)" class="yt" style="font-size:10.3px" textLength="5.40" lengthAdjust="spacingAndGlyphs">ρ</text>
<text transform="translate(534.60,75.70) rotate(-90)" class="yt" style="font-size:6.5px" textLength="6.70" lengthAdjust="spacingAndGlyphs">ηη</text>
<text transform="translate(529.50,66.20) rotate(-90)" class="yt" style="font-size:10.3px" textLength="6.60" lengthAdjust="spacingAndGlyphs">T</text>
<text transform="translate(534.60,59.50) rotate(-90)" class="yt" style="font-size:6.5px" textLength="21.90" lengthAdjust="spacingAndGlyphs">ππ→ηη</text>
<text transform="translate(525.40,36.30) rotate(-90)" class="yt" style="font-size:7.4px" textLength="4.00" lengthAdjust="spacingAndGlyphs">2</text>
<path d="M522.50,67.40 H531.60" stroke="#222" stroke-width="0.9"/>
<path d="M522.50,36.50 H531.60" stroke="#222" stroke-width="0.9"/>
<text transform="translate(11.10,257.60) rotate(-90)" class="yt" style="font-size:10.3px" textLength="5.30" lengthAdjust="spacingAndGlyphs">ρ</text>
<text transform="translate(16.10,252.50) rotate(-90)" class="yt" style="font-size:6.5px" textLength="7.00" lengthAdjust="spacingAndGlyphs">ππ</text>
<text transform="translate(11.10,245.10) rotate(-90)" class="yt" style="font-size:10.3px" textLength="5.00" lengthAdjust="spacingAndGlyphs">ρ</text>
<text transform="translate(16.10,239.70) rotate(-90)" class="yt" style="font-size:7.0px" textLength="8.40" lengthAdjust="spacingAndGlyphs">KK</text>
<text transform="translate(11.10,228.50) rotate(-90)" class="yt" style="font-size:10.3px" textLength="6.20" lengthAdjust="spacingAndGlyphs">T</text>
<text transform="translate(16.10,222.20) rotate(-90)" class="yt" style="font-size:6.5px" textLength="24.60" lengthAdjust="spacingAndGlyphs">ππ→KK</text>
<text transform="translate(6.50,195.80) rotate(-90)" class="yt" style="font-size:7.4px" textLength="2.90" lengthAdjust="spacingAndGlyphs">2</text>
<path d="M4.10,229.20 H13.20" stroke="#222" stroke-width="0.9"/>
<path d="M4.10,196.00 H13.20" stroke="#222" stroke-width="0.9"/>
<text transform="translate(183.7,225.1) rotate(-90)" text-anchor="middle" class="yt" style="font-size:11.4px">η</text>
<text transform="translate(359.2,225.1) rotate(-90)" text-anchor="middle" class="yt" style="font-size:11.4px">δ</text>
<text transform="translate(530.10,257.60) rotate(-90)" class="yt" style="font-size:10.3px" textLength="5.30" lengthAdjust="spacingAndGlyphs">ρ</text>
<text transform="translate(535.10,252.50) rotate(-90)" class="yt" style="font-size:6.5px" textLength="7.00" lengthAdjust="spacingAndGlyphs">ππ</text>
<text transform="translate(530.10,245.10) rotate(-90)" class="yt" style="font-size:10.3px" textLength="5.00" lengthAdjust="spacingAndGlyphs">ρ</text>
<text transform="translate(535.10,239.70) rotate(-90)" class="yt" style="font-size:7.0px" textLength="8.40" lengthAdjust="spacingAndGlyphs">KK</text>
<text transform="translate(530.10,228.50) rotate(-90)" class="yt" style="font-size:10.3px" textLength="6.20" lengthAdjust="spacingAndGlyphs">T</text>
<text transform="translate(535.10,222.20) rotate(-90)" class="yt" style="font-size:6.5px" textLength="24.60" lengthAdjust="spacingAndGlyphs">ππ→KK</text>
<text transform="translate(525.50,195.80) rotate(-90)" class="yt" style="font-size:7.4px" textLength="2.90" lengthAdjust="spacingAndGlyphs">2</text>
<path d="M523.10,229.20 H532.20" stroke="#222" stroke-width="0.9"/>
<path d="M523.10,196.00 H532.20" stroke="#222" stroke-width="0.9"/>
<text transform="translate(10.80,419.10) rotate(-90)" class="yt" style="font-size:10.3px" textLength="5.30" lengthAdjust="spacingAndGlyphs">ρ</text>
<text transform="translate(15.90,413.50) rotate(-90)" class="yt" style="font-size:6.5px" textLength="7.40" lengthAdjust="spacingAndGlyphs">ππ</text>
<text transform="translate(10.80,405.80) rotate(-90)" class="yt" style="font-size:10.3px" textLength="5.40" lengthAdjust="spacingAndGlyphs">ρ</text>
<text transform="translate(15.90,400.30) rotate(-90)" class="yt" style="font-size:6.5px" textLength="6.70" lengthAdjust="spacingAndGlyphs">ηη</text>
<text transform="translate(10.80,390.80) rotate(-90)" class="yt" style="font-size:10.3px" textLength="6.60" lengthAdjust="spacingAndGlyphs">T</text>
<text transform="translate(15.90,384.10) rotate(-90)" class="yt" style="font-size:6.5px" textLength="21.90" lengthAdjust="spacingAndGlyphs">ππ→ηη</text>
<text transform="translate(6.70,360.90) rotate(-90)" class="yt" style="font-size:7.4px" textLength="4.00" lengthAdjust="spacingAndGlyphs">2</text>
<path d="M3.80,392.00 H12.90" stroke="#222" stroke-width="0.9"/>
<path d="M3.80,361.10 H12.90" stroke="#222" stroke-width="0.9"/>
<text transform="translate(183.7,387.3) rotate(-90)" text-anchor="middle" class="yt" style="font-size:11.4px">η</text>
<text transform="translate(359.2,387.3) rotate(-90)" text-anchor="middle" class="yt" style="font-size:11.4px">δ</text>
<path d="M47.7,74.2 V81.9" stroke="#ffb27a" stroke-width="0.8"/>
<circle cx="47.7" cy="78.2" r="1.1" fill="#f00"/>
<text x="51.5" y="80.8" textLength="31" lengthAdjust="spacingAndGlyphs" style="font-family:'Liberation Sans',sans-serif;font-size:13.8px;fill:#f00">Data</text>
<path d="M45.1,90.7 H50.6" stroke="#888" stroke-width="0.9"/>
<text x="51.0" y="92.9" textLength="16.8" lengthAdjust="spacingAndGlyphs" style="font-family:'Liberation Sans',sans-serif;font-size:13.8px;fill:#111">Fit</text>
</svg></body></html>
